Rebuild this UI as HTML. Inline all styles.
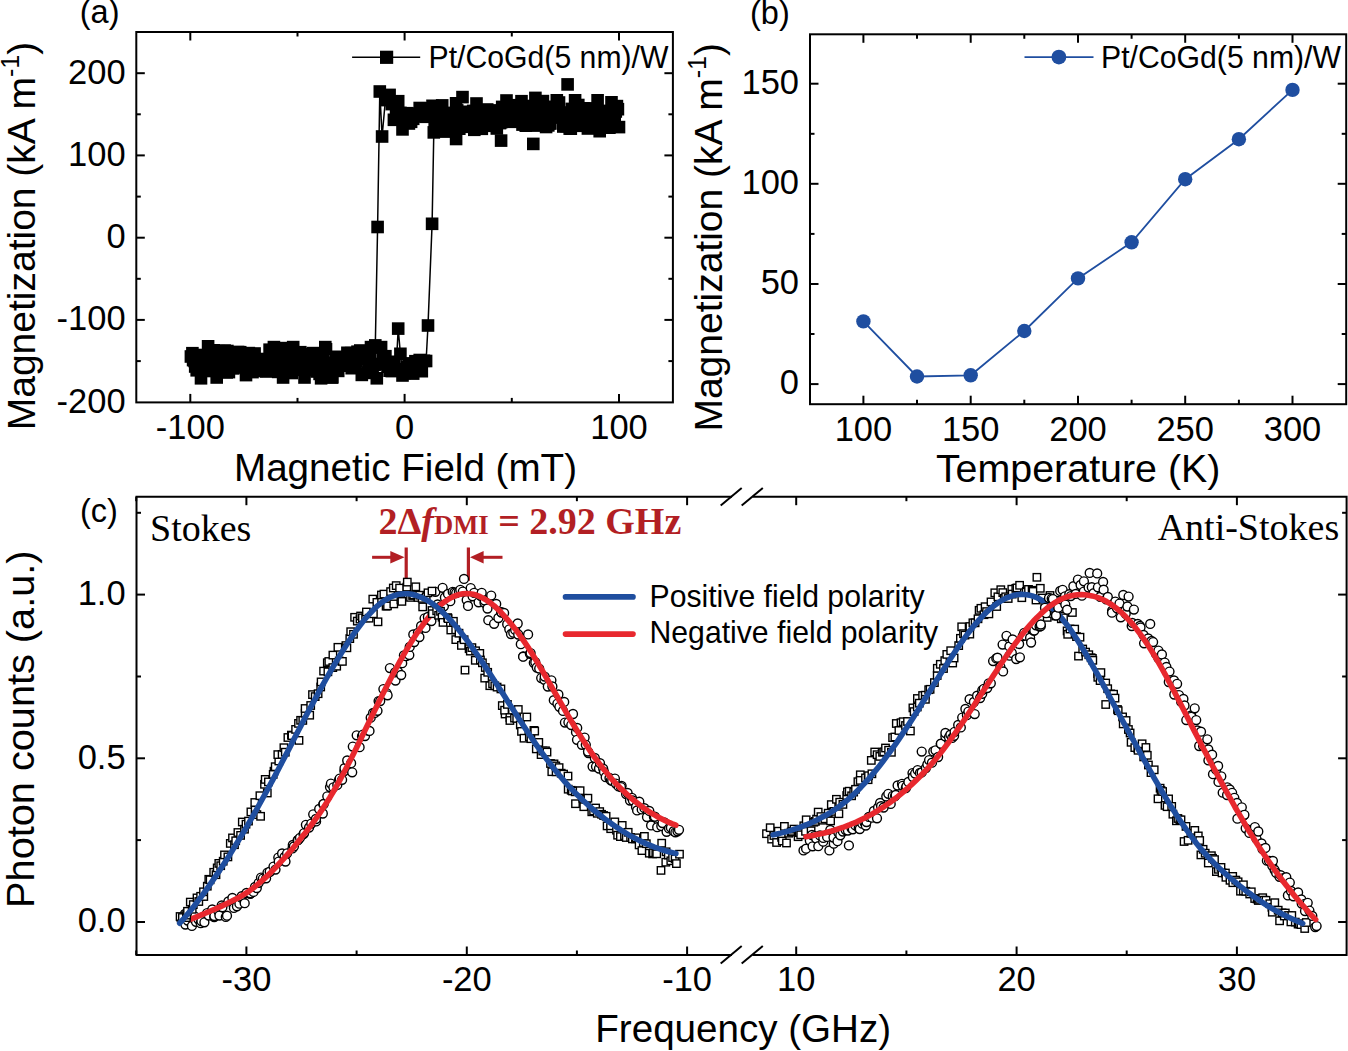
<!DOCTYPE html>
<html><head><meta charset="utf-8"><title>Figure</title>
<style>html,body{margin:0;padding:0;background:#fff;overflow:hidden}svg{display:block}</style>
</head><body><svg width="1348" height="1051" viewBox="0 0 1348 1051"><line x1="190.3" y1="402.4" x2="190.3" y2="393.9" stroke="#000" stroke-width="2.0" stroke-linecap="butt"/><line x1="190.3" y1="32.0" x2="190.3" y2="40.5" stroke="#000" stroke-width="2.0" stroke-linecap="butt"/><line x1="297.5" y1="402.4" x2="297.5" y2="397.9" stroke="#000" stroke-width="2.0" stroke-linecap="butt"/><line x1="297.5" y1="32.0" x2="297.5" y2="36.5" stroke="#000" stroke-width="2.0" stroke-linecap="butt"/><line x1="404.6" y1="402.4" x2="404.6" y2="393.9" stroke="#000" stroke-width="2.0" stroke-linecap="butt"/><line x1="404.6" y1="32.0" x2="404.6" y2="40.5" stroke="#000" stroke-width="2.0" stroke-linecap="butt"/><line x1="511.8" y1="402.4" x2="511.8" y2="397.9" stroke="#000" stroke-width="2.0" stroke-linecap="butt"/><line x1="511.8" y1="32.0" x2="511.8" y2="36.5" stroke="#000" stroke-width="2.0" stroke-linecap="butt"/><line x1="619.0" y1="402.4" x2="619.0" y2="393.9" stroke="#000" stroke-width="2.0" stroke-linecap="butt"/><line x1="619.0" y1="32.0" x2="619.0" y2="40.5" stroke="#000" stroke-width="2.0" stroke-linecap="butt"/><line x1="136.3" y1="361.1" x2="140.8" y2="361.1" stroke="#000" stroke-width="2.0" stroke-linecap="butt"/><line x1="672.9" y1="361.1" x2="668.4" y2="361.1" stroke="#000" stroke-width="2.0" stroke-linecap="butt"/><line x1="136.3" y1="319.9" x2="144.8" y2="319.9" stroke="#000" stroke-width="2.0" stroke-linecap="butt"/><line x1="672.9" y1="319.9" x2="664.4" y2="319.9" stroke="#000" stroke-width="2.0" stroke-linecap="butt"/><line x1="136.3" y1="278.8" x2="140.8" y2="278.8" stroke="#000" stroke-width="2.0" stroke-linecap="butt"/><line x1="672.9" y1="278.8" x2="668.4" y2="278.8" stroke="#000" stroke-width="2.0" stroke-linecap="butt"/><line x1="136.3" y1="237.7" x2="144.8" y2="237.7" stroke="#000" stroke-width="2.0" stroke-linecap="butt"/><line x1="672.9" y1="237.7" x2="664.4" y2="237.7" stroke="#000" stroke-width="2.0" stroke-linecap="butt"/><line x1="136.3" y1="196.6" x2="140.8" y2="196.6" stroke="#000" stroke-width="2.0" stroke-linecap="butt"/><line x1="672.9" y1="196.6" x2="668.4" y2="196.6" stroke="#000" stroke-width="2.0" stroke-linecap="butt"/><line x1="136.3" y1="155.4" x2="144.8" y2="155.4" stroke="#000" stroke-width="2.0" stroke-linecap="butt"/><line x1="672.9" y1="155.4" x2="664.4" y2="155.4" stroke="#000" stroke-width="2.0" stroke-linecap="butt"/><line x1="136.3" y1="114.3" x2="140.8" y2="114.3" stroke="#000" stroke-width="2.0" stroke-linecap="butt"/><line x1="672.9" y1="114.3" x2="668.4" y2="114.3" stroke="#000" stroke-width="2.0" stroke-linecap="butt"/><line x1="136.3" y1="73.2" x2="144.8" y2="73.2" stroke="#000" stroke-width="2.0" stroke-linecap="butt"/><line x1="672.9" y1="73.2" x2="664.4" y2="73.2" stroke="#000" stroke-width="2.0" stroke-linecap="butt"/><rect x="136.3" y="32.0" width="536.6" height="370.4" fill="none" stroke="#000" stroke-width="2.0"/><text transform="translate(125.6,83.5) scale(1,1.035)" font-family='"Liberation Sans", sans-serif' font-size="34.5" text-anchor="end" >200</text><text transform="translate(125.6,165.8) scale(1,1.035)" font-family='"Liberation Sans", sans-serif' font-size="34.5" text-anchor="end" >100</text><text transform="translate(125.6,248.0) scale(1,1.035)" font-family='"Liberation Sans", sans-serif' font-size="34.5" text-anchor="end" >0</text><text transform="translate(125.6,330.2) scale(1,1.035)" font-family='"Liberation Sans", sans-serif' font-size="34.5" text-anchor="end" >-100</text><text transform="translate(125.6,412.5) scale(1,1.035)" font-family='"Liberation Sans", sans-serif' font-size="34.5" text-anchor="end" >-200</text><text transform="translate(190.3,439.0) scale(1,1.035)" font-family='"Liberation Sans", sans-serif' font-size="34.5" text-anchor="middle" >-100</text><text transform="translate(404.6,439.0) scale(1,1.035)" font-family='"Liberation Sans", sans-serif' font-size="34.5" text-anchor="middle" >0</text><text transform="translate(619.0,439.0) scale(1,1.035)" font-family='"Liberation Sans", sans-serif' font-size="34.5" text-anchor="middle" >100</text><text x="405.5" y="481.0" font-family='"Liberation Sans", sans-serif' font-size="38.6" text-anchor="middle" >Magnetic Field (mT)</text><text transform="translate(35.3,236.0) rotate(-90)" font-family='"Liberation Sans", sans-serif' font-size="39.0" text-anchor="middle">Magnetization (kA m<tspan font-size="25" dy="-16">-1</tspan><tspan dy="16">)</tspan></text><text x="79.8" y="23.3" font-family='"Liberation Sans", sans-serif' font-size="32.5" text-anchor="start" >(a)</text><path d="M619.0,127.1 L616.9,106.1 L614.7,122.8 L612.6,118.0 L610.4,116.6 L608.3,121.8 L606.1,126.7 L604.0,110.9 L601.9,113.1 L599.7,131.2 L597.6,100.3 L595.4,108.4 L593.3,121.9 L591.1,108.9 L589.0,119.6 L586.8,116.4 L584.7,109.8 L582.6,125.8 L580.4,111.5 L578.3,105.0 L576.1,105.6 L574.0,118.3 L571.8,108.9 L569.7,128.6 L567.6,117.2 L565.4,112.5 L563.3,126.5 L561.1,116.6 L559.0,102.5 L556.8,100.3 L554.7,109.9 L552.6,109.5 L550.4,123.5 L548.3,125.4 L546.1,127.0 L544.0,111.7 L541.8,110.1 L539.7,121.1 L537.5,125.6 L535.4,114.0 L533.3,113.5 L531.1,117.0 L529.0,106.0 L526.8,116.7 L524.7,116.5 L522.5,124.6 L520.4,114.9 L518.3,105.4 L516.1,115.5 L514.0,115.4 L511.8,112.6 L509.7,113.8 L507.5,111.8 L505.4,111.8 L503.3,111.1 L501.1,122.2 L499.0,113.6 L496.8,128.5 L494.7,113.9 L492.5,125.8 L490.4,116.5 L488.2,112.3 L486.1,119.2 L484.0,115.2 L481.8,128.8 L479.7,122.7 L477.5,110.6 L475.4,125.0 L473.2,110.9 L471.1,126.8 L469.0,123.1 L466.8,124.5 L464.7,115.9 L462.5,111.8 L460.4,124.3 L458.2,117.4 L456.1,103.3 L454.0,118.5 L451.8,122.3 L449.7,112.9 L447.5,117.7 L445.4,121.5 L443.2,130.0 L441.1,109.6 L438.9,120.4 L436.8,116.0 L434.7,124.3 L432.5,105.8 L430.4,110.1 L428.2,108.3 L426.1,116.8 L423.9,112.3 L421.8,109.0 L419.7,108.0 L417.5,113.5 L415.4,116.5 L413.2,118.8 L411.1,121.8 L408.9,123.5 L406.8,113.2 L404.6,117.9 L402.5,129.4 L400.4,112.9 L398.2,101.2 L396.1,109.6 L393.9,119.8 L391.8,104.1 L389.6,94.9 L387.5,97.3 L385.4,100.1 L382.1,136.5 L379.8,91.5 L377.6,227.0 L375.3,345.4 L373.1,347.5 L371.0,347.1 L368.9,362.7 L366.7,355.5 L364.6,358.8 L362.4,355.8 L360.3,350.5 L358.1,355.5 L356.0,361.2 L353.8,367.0 L351.7,368.2 L349.6,362.1 L347.4,352.8 L345.3,359.5 L343.1,361.5 L341.0,359.9 L338.8,361.6 L336.7,357.6 L334.6,370.7 L332.4,377.3 L330.3,365.2 L328.1,370.9 L326.0,349.3 L323.8,363.1 L321.7,363.9 L319.6,373.9 L317.4,359.7 L315.3,366.8 L313.1,353.1 L311.0,355.3 L308.8,368.0 L306.7,358.7 L304.5,377.5 L302.4,367.2 L300.3,352.2 L298.1,355.7 L296.0,360.5 L293.8,362.1 L291.7,373.0 L289.5,372.5 L287.4,360.2 L285.3,348.1 L283.1,377.5 L281.0,357.0 L278.8,357.2 L276.7,354.5 L274.5,368.7 L272.4,366.0 L270.3,361.5 L268.1,369.9 L266.0,371.5 L263.8,368.8 L261.7,362.5 L259.5,359.0 L257.4,362.1 L255.2,361.3 L253.1,367.2 L251.0,367.5 L248.8,353.1 L246.7,362.3 L244.5,362.5 L242.4,354.6 L240.2,352.2 L238.1,352.0 L236.0,358.7 L233.8,362.3 L231.7,359.6 L229.5,360.5 L227.4,351.0 L225.2,359.6 L223.1,356.9 L221.0,362.1 L218.8,351.2 L216.7,377.5 L214.5,358.9 L212.4,356.0 L210.2,371.0 L208.1,346.3 L205.9,363.1 L203.8,363.2 L201.7,370.3 L199.5,355.0 L197.4,360.1 L195.2,366.5 L193.1,360.1 L190.9,356.5 L192.4,353.2 L194.6,361.0 L196.7,370.3 L198.9,367.1 L201.0,378.3 L203.2,368.4 L205.3,357.0 L207.4,359.1 L209.6,363.6 L211.7,365.4 L213.9,350.3 L216.0,360.5 L218.2,355.6 L220.3,359.6 L222.5,368.0 L224.6,350.6 L226.7,372.4 L228.9,372.1 L231.0,366.1 L233.2,368.4 L235.3,367.1 L237.5,367.4 L239.6,355.0 L241.7,362.3 L243.9,360.0 L246.0,375.1 L248.2,369.3 L250.3,354.2 L252.5,372.1 L254.6,353.5 L256.7,370.8 L258.9,360.4 L261.0,369.3 L263.2,361.2 L265.3,369.7 L267.5,364.7 L269.6,349.7 L271.8,365.7 L273.9,347.1 L276.0,366.3 L278.2,371.9 L280.3,362.1 L282.5,365.9 L284.6,349.0 L286.8,356.0 L288.9,353.5 L291.0,357.8 L293.2,347.1 L295.3,356.5 L297.5,358.6 L299.6,369.2 L301.8,369.8 L303.9,361.3 L306.0,354.9 L308.2,354.0 L310.3,370.1 L312.5,358.6 L314.6,361.2 L316.8,371.5 L318.9,358.7 L321.1,378.3 L323.2,360.7 L325.3,347.1 L327.5,370.7 L329.6,362.6 L331.8,377.5 L333.9,368.6 L336.1,356.8 L338.2,370.9 L340.3,363.0 L342.5,365.5 L344.6,365.7 L346.8,361.2 L348.9,358.9 L351.1,353.1 L353.2,356.2 L355.3,367.1 L357.5,351.7 L359.6,353.0 L361.8,374.9 L363.9,357.5 L366.1,356.3 L368.2,355.2 L370.4,358.4 L372.5,372.9 L374.6,364.8 L376.8,378.3 L378.9,364.0 L381.1,347.1 L383.2,357.4 L385.4,356.2 L387.5,366.7 L389.6,370.7 L391.8,371.1 L393.9,361.8 L396.1,369.0 L398.2,328.6 L400.4,353.8 L402.5,375.5 L404.6,373.0 L406.8,366.7 L408.9,363.5 L411.1,363.7 L413.2,373.6 L415.4,361.2 L417.5,363.7 L419.7,360.0 L421.8,371.2 L423.9,360.8 L426.1,361.0 L428.0,325.5 L432.1,223.8 L433.8,132.4 L435.7,121.1 L437.9,117.7 L440.0,120.3 L442.2,105.4 L444.3,131.6 L446.4,127.3 L448.6,129.3 L450.7,118.9 L452.9,121.3 L455.0,119.2 L457.2,110.4 L459.3,128.7 L461.5,122.6 L463.6,117.7 L465.7,125.4 L467.9,113.1 L470.0,113.4 L472.2,121.5 L474.3,129.8 L476.5,103.5 L478.6,112.3 L480.7,112.7 L482.9,115.4 L485.0,116.0 L487.2,109.5 L489.3,116.1 L491.5,120.9 L493.6,110.4 L495.7,115.5 L497.9,122.0 L500.0,123.1 L502.2,106.9 L504.3,111.0 L506.5,100.5 L508.6,120.1 L510.8,121.8 L512.9,112.8 L515.0,105.2 L517.2,111.3 L519.3,112.6 L521.5,101.2 L523.6,121.8 L525.8,125.7 L527.9,121.8 L530.0,118.4 L532.2,113.1 L534.3,108.0 L536.5,112.8 L538.6,104.1 L540.8,122.4 L542.9,101.1 L545.0,122.3 L547.2,106.8 L549.3,123.3 L551.5,113.3 L553.6,115.6 L555.8,111.9 L557.9,110.1 L560.1,117.6 L562.2,116.5 L564.3,114.1 L566.5,126.2 L568.6,121.7 L570.8,128.7 L572.9,115.9 L575.1,100.3 L577.2,110.2 L579.3,122.7 L581.5,121.5 L583.6,108.3 L585.8,119.7 L587.9,128.5 L590.1,124.0 L592.2,124.2 L594.3,124.0 L596.5,110.7 L598.6,115.4 L600.8,127.6 L602.9,120.2 L605.1,124.9 L607.2,125.4 L609.4,127.7 L611.5,102.3 L613.6,118.4 L615.8,111.5 L617.9,109.2" fill="none" stroke="#000" stroke-width="1.5"/><g fill="#000"><rect x="612.7" y="120.8" width="12.6" height="12.6"/><rect x="610.6" y="99.8" width="12.6" height="12.6"/><rect x="608.4" y="116.5" width="12.6" height="12.6"/><rect x="606.3" y="111.7" width="12.6" height="12.6"/><rect x="604.1" y="110.3" width="12.6" height="12.6"/><rect x="602.0" y="115.5" width="12.6" height="12.6"/><rect x="599.8" y="120.4" width="12.6" height="12.6"/><rect x="597.7" y="104.6" width="12.6" height="12.6"/><rect x="595.6" y="106.8" width="12.6" height="12.6"/><rect x="593.4" y="124.9" width="12.6" height="12.6"/><rect x="591.3" y="94.0" width="12.6" height="12.6"/><rect x="589.1" y="102.1" width="12.6" height="12.6"/><rect x="587.0" y="115.6" width="12.6" height="12.6"/><rect x="584.8" y="102.6" width="12.6" height="12.6"/><rect x="582.7" y="113.3" width="12.6" height="12.6"/><rect x="580.5" y="110.1" width="12.6" height="12.6"/><rect x="578.4" y="103.5" width="12.6" height="12.6"/><rect x="576.3" y="119.5" width="12.6" height="12.6"/><rect x="574.1" y="105.2" width="12.6" height="12.6"/><rect x="572.0" y="98.7" width="12.6" height="12.6"/><rect x="569.8" y="99.3" width="12.6" height="12.6"/><rect x="567.7" y="112.0" width="12.6" height="12.6"/><rect x="565.5" y="102.6" width="12.6" height="12.6"/><rect x="563.4" y="122.3" width="12.6" height="12.6"/><rect x="561.3" y="110.9" width="12.6" height="12.6"/><rect x="559.1" y="106.2" width="12.6" height="12.6"/><rect x="557.0" y="120.2" width="12.6" height="12.6"/><rect x="554.8" y="110.3" width="12.6" height="12.6"/><rect x="552.7" y="96.2" width="12.6" height="12.6"/><rect x="550.5" y="94.0" width="12.6" height="12.6"/><rect x="548.4" y="103.6" width="12.6" height="12.6"/><rect x="546.3" y="103.2" width="12.6" height="12.6"/><rect x="544.1" y="117.2" width="12.6" height="12.6"/><rect x="542.0" y="119.1" width="12.6" height="12.6"/><rect x="539.8" y="120.7" width="12.6" height="12.6"/><rect x="537.7" y="105.4" width="12.6" height="12.6"/><rect x="535.5" y="103.8" width="12.6" height="12.6"/><rect x="533.4" y="114.8" width="12.6" height="12.6"/><rect x="531.2" y="119.3" width="12.6" height="12.6"/><rect x="529.1" y="107.7" width="12.6" height="12.6"/><rect x="527.0" y="107.2" width="12.6" height="12.6"/><rect x="524.8" y="110.7" width="12.6" height="12.6"/><rect x="522.7" y="99.7" width="12.6" height="12.6"/><rect x="520.5" y="110.4" width="12.6" height="12.6"/><rect x="518.4" y="110.2" width="12.6" height="12.6"/><rect x="516.2" y="118.3" width="12.6" height="12.6"/><rect x="514.1" y="108.6" width="12.6" height="12.6"/><rect x="512.0" y="99.1" width="12.6" height="12.6"/><rect x="509.8" y="109.2" width="12.6" height="12.6"/><rect x="507.7" y="109.1" width="12.6" height="12.6"/><rect x="505.5" y="106.3" width="12.6" height="12.6"/><rect x="503.4" y="107.5" width="12.6" height="12.6"/><rect x="501.2" y="105.5" width="12.6" height="12.6"/><rect x="499.1" y="105.5" width="12.6" height="12.6"/><rect x="497.0" y="104.8" width="12.6" height="12.6"/><rect x="494.8" y="115.9" width="12.6" height="12.6"/><rect x="492.7" y="107.3" width="12.6" height="12.6"/><rect x="490.5" y="122.2" width="12.6" height="12.6"/><rect x="488.4" y="107.6" width="12.6" height="12.6"/><rect x="486.2" y="119.5" width="12.6" height="12.6"/><rect x="484.1" y="110.2" width="12.6" height="12.6"/><rect x="481.9" y="106.0" width="12.6" height="12.6"/><rect x="479.8" y="112.9" width="12.6" height="12.6"/><rect x="477.7" y="108.9" width="12.6" height="12.6"/><rect x="475.5" y="122.5" width="12.6" height="12.6"/><rect x="473.4" y="116.4" width="12.6" height="12.6"/><rect x="471.2" y="104.3" width="12.6" height="12.6"/><rect x="469.1" y="118.7" width="12.6" height="12.6"/><rect x="466.9" y="104.6" width="12.6" height="12.6"/><rect x="464.8" y="120.5" width="12.6" height="12.6"/><rect x="462.7" y="116.8" width="12.6" height="12.6"/><rect x="460.5" y="118.2" width="12.6" height="12.6"/><rect x="458.4" y="109.6" width="12.6" height="12.6"/><rect x="456.2" y="105.5" width="12.6" height="12.6"/><rect x="454.1" y="118.0" width="12.6" height="12.6"/><rect x="451.9" y="111.1" width="12.6" height="12.6"/><rect x="449.8" y="97.0" width="12.6" height="12.6"/><rect x="447.7" y="112.2" width="12.6" height="12.6"/><rect x="445.5" y="116.0" width="12.6" height="12.6"/><rect x="443.4" y="106.6" width="12.6" height="12.6"/><rect x="441.2" y="111.4" width="12.6" height="12.6"/><rect x="439.1" y="115.2" width="12.6" height="12.6"/><rect x="436.9" y="123.7" width="12.6" height="12.6"/><rect x="434.8" y="103.3" width="12.6" height="12.6"/><rect x="432.6" y="114.1" width="12.6" height="12.6"/><rect x="430.5" y="109.7" width="12.6" height="12.6"/><rect x="428.4" y="118.0" width="12.6" height="12.6"/><rect x="426.2" y="99.5" width="12.6" height="12.6"/><rect x="424.1" y="103.8" width="12.6" height="12.6"/><rect x="421.9" y="102.0" width="12.6" height="12.6"/><rect x="419.8" y="110.5" width="12.6" height="12.6"/><rect x="417.6" y="106.0" width="12.6" height="12.6"/><rect x="415.5" y="102.7" width="12.6" height="12.6"/><rect x="413.4" y="101.7" width="12.6" height="12.6"/><rect x="411.2" y="107.2" width="12.6" height="12.6"/><rect x="409.1" y="110.2" width="12.6" height="12.6"/><rect x="406.9" y="112.5" width="12.6" height="12.6"/><rect x="404.8" y="115.5" width="12.6" height="12.6"/><rect x="402.6" y="117.2" width="12.6" height="12.6"/><rect x="400.5" y="106.9" width="12.6" height="12.6"/><rect x="398.3" y="111.6" width="12.6" height="12.6"/><rect x="396.2" y="123.1" width="12.6" height="12.6"/><rect x="394.1" y="106.6" width="12.6" height="12.6"/><rect x="391.9" y="94.9" width="12.6" height="12.6"/><rect x="389.8" y="103.3" width="12.6" height="12.6"/><rect x="387.6" y="113.5" width="12.6" height="12.6"/><rect x="385.5" y="97.8" width="12.6" height="12.6"/><rect x="383.3" y="88.6" width="12.6" height="12.6"/><rect x="381.2" y="91.0" width="12.6" height="12.6"/><rect x="379.1" y="93.8" width="12.6" height="12.6"/><rect x="375.8" y="130.2" width="12.6" height="12.6"/><rect x="373.5" y="85.2" width="12.6" height="12.6"/><rect x="371.3" y="220.7" width="12.6" height="12.6"/><rect x="369.0" y="339.1" width="12.6" height="12.6"/><rect x="366.8" y="341.2" width="12.6" height="12.6"/><rect x="364.7" y="340.8" width="12.6" height="12.6"/><rect x="362.6" y="356.4" width="12.6" height="12.6"/><rect x="360.4" y="349.2" width="12.6" height="12.6"/><rect x="358.3" y="352.5" width="12.6" height="12.6"/><rect x="356.1" y="349.5" width="12.6" height="12.6"/><rect x="354.0" y="344.2" width="12.6" height="12.6"/><rect x="351.8" y="349.2" width="12.6" height="12.6"/><rect x="349.7" y="354.9" width="12.6" height="12.6"/><rect x="347.5" y="360.7" width="12.6" height="12.6"/><rect x="345.4" y="361.9" width="12.6" height="12.6"/><rect x="343.3" y="355.8" width="12.6" height="12.6"/><rect x="341.1" y="346.5" width="12.6" height="12.6"/><rect x="339.0" y="353.2" width="12.6" height="12.6"/><rect x="336.8" y="355.2" width="12.6" height="12.6"/><rect x="334.7" y="353.6" width="12.6" height="12.6"/><rect x="332.5" y="355.3" width="12.6" height="12.6"/><rect x="330.4" y="351.3" width="12.6" height="12.6"/><rect x="328.3" y="364.4" width="12.6" height="12.6"/><rect x="326.1" y="371.0" width="12.6" height="12.6"/><rect x="324.0" y="358.9" width="12.6" height="12.6"/><rect x="321.8" y="364.6" width="12.6" height="12.6"/><rect x="319.7" y="343.0" width="12.6" height="12.6"/><rect x="317.5" y="356.8" width="12.6" height="12.6"/><rect x="315.4" y="357.6" width="12.6" height="12.6"/><rect x="313.3" y="367.6" width="12.6" height="12.6"/><rect x="311.1" y="353.4" width="12.6" height="12.6"/><rect x="309.0" y="360.5" width="12.6" height="12.6"/><rect x="306.8" y="346.8" width="12.6" height="12.6"/><rect x="304.7" y="349.0" width="12.6" height="12.6"/><rect x="302.5" y="361.7" width="12.6" height="12.6"/><rect x="300.4" y="352.4" width="12.6" height="12.6"/><rect x="298.2" y="371.2" width="12.6" height="12.6"/><rect x="296.1" y="360.9" width="12.6" height="12.6"/><rect x="294.0" y="345.9" width="12.6" height="12.6"/><rect x="291.8" y="349.4" width="12.6" height="12.6"/><rect x="289.7" y="354.2" width="12.6" height="12.6"/><rect x="287.5" y="355.8" width="12.6" height="12.6"/><rect x="285.4" y="366.7" width="12.6" height="12.6"/><rect x="283.2" y="366.2" width="12.6" height="12.6"/><rect x="281.1" y="353.9" width="12.6" height="12.6"/><rect x="279.0" y="341.8" width="12.6" height="12.6"/><rect x="276.8" y="371.2" width="12.6" height="12.6"/><rect x="274.7" y="350.7" width="12.6" height="12.6"/><rect x="272.5" y="350.9" width="12.6" height="12.6"/><rect x="270.4" y="348.2" width="12.6" height="12.6"/><rect x="268.2" y="362.4" width="12.6" height="12.6"/><rect x="266.1" y="359.7" width="12.6" height="12.6"/><rect x="264.0" y="355.2" width="12.6" height="12.6"/><rect x="261.8" y="363.6" width="12.6" height="12.6"/><rect x="259.7" y="365.2" width="12.6" height="12.6"/><rect x="257.5" y="362.5" width="12.6" height="12.6"/><rect x="255.4" y="356.2" width="12.6" height="12.6"/><rect x="253.2" y="352.7" width="12.6" height="12.6"/><rect x="251.1" y="355.8" width="12.6" height="12.6"/><rect x="248.9" y="355.0" width="12.6" height="12.6"/><rect x="246.8" y="360.9" width="12.6" height="12.6"/><rect x="244.7" y="361.2" width="12.6" height="12.6"/><rect x="242.5" y="346.8" width="12.6" height="12.6"/><rect x="240.4" y="356.0" width="12.6" height="12.6"/><rect x="238.2" y="356.2" width="12.6" height="12.6"/><rect x="236.1" y="348.3" width="12.6" height="12.6"/><rect x="233.9" y="345.9" width="12.6" height="12.6"/><rect x="231.8" y="345.7" width="12.6" height="12.6"/><rect x="229.7" y="352.4" width="12.6" height="12.6"/><rect x="227.5" y="356.0" width="12.6" height="12.6"/><rect x="225.4" y="353.3" width="12.6" height="12.6"/><rect x="223.2" y="354.2" width="12.6" height="12.6"/><rect x="221.1" y="344.7" width="12.6" height="12.6"/><rect x="218.9" y="353.3" width="12.6" height="12.6"/><rect x="216.8" y="350.6" width="12.6" height="12.6"/><rect x="214.7" y="355.8" width="12.6" height="12.6"/><rect x="212.5" y="344.9" width="12.6" height="12.6"/><rect x="210.4" y="371.2" width="12.6" height="12.6"/><rect x="208.2" y="352.6" width="12.6" height="12.6"/><rect x="206.1" y="349.7" width="12.6" height="12.6"/><rect x="203.9" y="364.7" width="12.6" height="12.6"/><rect x="201.8" y="340.0" width="12.6" height="12.6"/><rect x="199.6" y="356.8" width="12.6" height="12.6"/><rect x="197.5" y="356.9" width="12.6" height="12.6"/><rect x="195.4" y="364.0" width="12.6" height="12.6"/><rect x="193.2" y="348.7" width="12.6" height="12.6"/><rect x="191.1" y="353.8" width="12.6" height="12.6"/><rect x="188.9" y="360.2" width="12.6" height="12.6"/><rect x="186.8" y="353.8" width="12.6" height="12.6"/><rect x="184.6" y="350.2" width="12.6" height="12.6"/><rect x="186.1" y="346.9" width="12.6" height="12.6"/><rect x="188.3" y="354.7" width="12.6" height="12.6"/><rect x="190.4" y="364.0" width="12.6" height="12.6"/><rect x="192.6" y="360.8" width="12.6" height="12.6"/><rect x="194.7" y="372.0" width="12.6" height="12.6"/><rect x="196.9" y="362.1" width="12.6" height="12.6"/><rect x="199.0" y="350.7" width="12.6" height="12.6"/><rect x="201.1" y="352.8" width="12.6" height="12.6"/><rect x="203.3" y="357.3" width="12.6" height="12.6"/><rect x="205.4" y="359.1" width="12.6" height="12.6"/><rect x="207.6" y="344.0" width="12.6" height="12.6"/><rect x="209.7" y="354.2" width="12.6" height="12.6"/><rect x="211.9" y="349.3" width="12.6" height="12.6"/><rect x="214.0" y="353.3" width="12.6" height="12.6"/><rect x="216.2" y="361.7" width="12.6" height="12.6"/><rect x="218.3" y="344.3" width="12.6" height="12.6"/><rect x="220.4" y="366.1" width="12.6" height="12.6"/><rect x="222.6" y="365.8" width="12.6" height="12.6"/><rect x="224.7" y="359.8" width="12.6" height="12.6"/><rect x="226.9" y="362.1" width="12.6" height="12.6"/><rect x="229.0" y="360.8" width="12.6" height="12.6"/><rect x="231.2" y="361.1" width="12.6" height="12.6"/><rect x="233.3" y="348.7" width="12.6" height="12.6"/><rect x="235.4" y="356.0" width="12.6" height="12.6"/><rect x="237.6" y="353.7" width="12.6" height="12.6"/><rect x="239.7" y="368.8" width="12.6" height="12.6"/><rect x="241.9" y="363.0" width="12.6" height="12.6"/><rect x="244.0" y="347.9" width="12.6" height="12.6"/><rect x="246.2" y="365.8" width="12.6" height="12.6"/><rect x="248.3" y="347.2" width="12.6" height="12.6"/><rect x="250.4" y="364.5" width="12.6" height="12.6"/><rect x="252.6" y="354.1" width="12.6" height="12.6"/><rect x="254.7" y="363.0" width="12.6" height="12.6"/><rect x="256.9" y="354.9" width="12.6" height="12.6"/><rect x="259.0" y="363.4" width="12.6" height="12.6"/><rect x="261.2" y="358.4" width="12.6" height="12.6"/><rect x="263.3" y="343.4" width="12.6" height="12.6"/><rect x="265.5" y="359.4" width="12.6" height="12.6"/><rect x="267.6" y="340.8" width="12.6" height="12.6"/><rect x="269.7" y="360.0" width="12.6" height="12.6"/><rect x="271.9" y="365.6" width="12.6" height="12.6"/><rect x="274.0" y="355.8" width="12.6" height="12.6"/><rect x="276.2" y="359.6" width="12.6" height="12.6"/><rect x="278.3" y="342.7" width="12.6" height="12.6"/><rect x="280.5" y="349.7" width="12.6" height="12.6"/><rect x="282.6" y="347.2" width="12.6" height="12.6"/><rect x="284.7" y="351.5" width="12.6" height="12.6"/><rect x="286.9" y="340.8" width="12.6" height="12.6"/><rect x="289.0" y="350.2" width="12.6" height="12.6"/><rect x="291.2" y="352.3" width="12.6" height="12.6"/><rect x="293.3" y="362.9" width="12.6" height="12.6"/><rect x="295.5" y="363.5" width="12.6" height="12.6"/><rect x="297.6" y="355.0" width="12.6" height="12.6"/><rect x="299.7" y="348.6" width="12.6" height="12.6"/><rect x="301.9" y="347.7" width="12.6" height="12.6"/><rect x="304.0" y="363.8" width="12.6" height="12.6"/><rect x="306.2" y="352.3" width="12.6" height="12.6"/><rect x="308.3" y="354.9" width="12.6" height="12.6"/><rect x="310.5" y="365.2" width="12.6" height="12.6"/><rect x="312.6" y="352.4" width="12.6" height="12.6"/><rect x="314.8" y="372.0" width="12.6" height="12.6"/><rect x="316.9" y="354.4" width="12.6" height="12.6"/><rect x="319.0" y="340.8" width="12.6" height="12.6"/><rect x="321.2" y="364.4" width="12.6" height="12.6"/><rect x="323.3" y="356.3" width="12.6" height="12.6"/><rect x="325.5" y="371.2" width="12.6" height="12.6"/><rect x="327.6" y="362.3" width="12.6" height="12.6"/><rect x="329.8" y="350.5" width="12.6" height="12.6"/><rect x="331.9" y="364.6" width="12.6" height="12.6"/><rect x="334.0" y="356.7" width="12.6" height="12.6"/><rect x="336.2" y="359.2" width="12.6" height="12.6"/><rect x="338.3" y="359.4" width="12.6" height="12.6"/><rect x="340.5" y="354.9" width="12.6" height="12.6"/><rect x="342.6" y="352.6" width="12.6" height="12.6"/><rect x="344.8" y="346.8" width="12.6" height="12.6"/><rect x="346.9" y="349.9" width="12.6" height="12.6"/><rect x="349.0" y="360.8" width="12.6" height="12.6"/><rect x="351.2" y="345.4" width="12.6" height="12.6"/><rect x="353.3" y="346.7" width="12.6" height="12.6"/><rect x="355.5" y="368.6" width="12.6" height="12.6"/><rect x="357.6" y="351.2" width="12.6" height="12.6"/><rect x="359.8" y="350.0" width="12.6" height="12.6"/><rect x="361.9" y="348.9" width="12.6" height="12.6"/><rect x="364.1" y="352.1" width="12.6" height="12.6"/><rect x="366.2" y="366.6" width="12.6" height="12.6"/><rect x="368.3" y="358.5" width="12.6" height="12.6"/><rect x="370.5" y="372.0" width="12.6" height="12.6"/><rect x="372.6" y="357.7" width="12.6" height="12.6"/><rect x="374.8" y="340.8" width="12.6" height="12.6"/><rect x="376.9" y="351.1" width="12.6" height="12.6"/><rect x="379.1" y="349.9" width="12.6" height="12.6"/><rect x="381.2" y="360.4" width="12.6" height="12.6"/><rect x="383.3" y="364.4" width="12.6" height="12.6"/><rect x="385.5" y="364.8" width="12.6" height="12.6"/><rect x="387.6" y="355.5" width="12.6" height="12.6"/><rect x="389.8" y="362.7" width="12.6" height="12.6"/><rect x="391.9" y="322.3" width="12.6" height="12.6"/><rect x="394.1" y="347.5" width="12.6" height="12.6"/><rect x="396.2" y="369.2" width="12.6" height="12.6"/><rect x="398.3" y="366.7" width="12.6" height="12.6"/><rect x="400.5" y="360.4" width="12.6" height="12.6"/><rect x="402.6" y="357.2" width="12.6" height="12.6"/><rect x="404.8" y="357.4" width="12.6" height="12.6"/><rect x="406.9" y="367.3" width="12.6" height="12.6"/><rect x="409.1" y="354.9" width="12.6" height="12.6"/><rect x="411.2" y="357.4" width="12.6" height="12.6"/><rect x="413.4" y="353.7" width="12.6" height="12.6"/><rect x="415.5" y="364.9" width="12.6" height="12.6"/><rect x="417.6" y="354.5" width="12.6" height="12.6"/><rect x="419.8" y="354.7" width="12.6" height="12.6"/><rect x="421.7" y="319.2" width="12.6" height="12.6"/><rect x="425.8" y="217.5" width="12.6" height="12.6"/><rect x="427.5" y="126.1" width="12.6" height="12.6"/><rect x="429.4" y="114.8" width="12.6" height="12.6"/><rect x="431.6" y="111.4" width="12.6" height="12.6"/><rect x="433.7" y="114.0" width="12.6" height="12.6"/><rect x="435.9" y="99.1" width="12.6" height="12.6"/><rect x="438.0" y="125.3" width="12.6" height="12.6"/><rect x="440.1" y="121.0" width="12.6" height="12.6"/><rect x="442.3" y="123.0" width="12.6" height="12.6"/><rect x="444.4" y="112.6" width="12.6" height="12.6"/><rect x="446.6" y="115.0" width="12.6" height="12.6"/><rect x="448.7" y="112.9" width="12.6" height="12.6"/><rect x="450.9" y="104.1" width="12.6" height="12.6"/><rect x="453.0" y="122.4" width="12.6" height="12.6"/><rect x="455.2" y="116.3" width="12.6" height="12.6"/><rect x="457.3" y="111.4" width="12.6" height="12.6"/><rect x="459.4" y="119.1" width="12.6" height="12.6"/><rect x="461.6" y="106.8" width="12.6" height="12.6"/><rect x="463.7" y="107.1" width="12.6" height="12.6"/><rect x="465.9" y="115.2" width="12.6" height="12.6"/><rect x="468.0" y="123.5" width="12.6" height="12.6"/><rect x="470.2" y="97.2" width="12.6" height="12.6"/><rect x="472.3" y="106.0" width="12.6" height="12.6"/><rect x="474.4" y="106.4" width="12.6" height="12.6"/><rect x="476.6" y="109.1" width="12.6" height="12.6"/><rect x="478.7" y="109.7" width="12.6" height="12.6"/><rect x="480.9" y="103.2" width="12.6" height="12.6"/><rect x="483.0" y="109.8" width="12.6" height="12.6"/><rect x="485.2" y="114.6" width="12.6" height="12.6"/><rect x="487.3" y="104.1" width="12.6" height="12.6"/><rect x="489.4" y="109.2" width="12.6" height="12.6"/><rect x="491.6" y="115.7" width="12.6" height="12.6"/><rect x="493.7" y="116.8" width="12.6" height="12.6"/><rect x="495.9" y="100.6" width="12.6" height="12.6"/><rect x="498.0" y="104.7" width="12.6" height="12.6"/><rect x="500.2" y="94.2" width="12.6" height="12.6"/><rect x="502.3" y="113.8" width="12.6" height="12.6"/><rect x="504.5" y="115.5" width="12.6" height="12.6"/><rect x="506.6" y="106.5" width="12.6" height="12.6"/><rect x="508.7" y="98.9" width="12.6" height="12.6"/><rect x="510.9" y="105.0" width="12.6" height="12.6"/><rect x="513.0" y="106.3" width="12.6" height="12.6"/><rect x="515.2" y="94.9" width="12.6" height="12.6"/><rect x="517.3" y="115.5" width="12.6" height="12.6"/><rect x="519.5" y="119.4" width="12.6" height="12.6"/><rect x="521.6" y="115.5" width="12.6" height="12.6"/><rect x="523.7" y="112.1" width="12.6" height="12.6"/><rect x="525.9" y="106.8" width="12.6" height="12.6"/><rect x="528.0" y="101.7" width="12.6" height="12.6"/><rect x="530.2" y="106.5" width="12.6" height="12.6"/><rect x="532.3" y="97.8" width="12.6" height="12.6"/><rect x="534.5" y="116.1" width="12.6" height="12.6"/><rect x="536.6" y="94.8" width="12.6" height="12.6"/><rect x="538.7" y="116.0" width="12.6" height="12.6"/><rect x="540.9" y="100.5" width="12.6" height="12.6"/><rect x="543.0" y="117.0" width="12.6" height="12.6"/><rect x="545.2" y="107.0" width="12.6" height="12.6"/><rect x="547.3" y="109.3" width="12.6" height="12.6"/><rect x="549.5" y="105.6" width="12.6" height="12.6"/><rect x="551.6" y="103.8" width="12.6" height="12.6"/><rect x="553.8" y="111.3" width="12.6" height="12.6"/><rect x="555.9" y="110.2" width="12.6" height="12.6"/><rect x="558.0" y="107.8" width="12.6" height="12.6"/><rect x="560.2" y="119.9" width="12.6" height="12.6"/><rect x="562.3" y="115.4" width="12.6" height="12.6"/><rect x="564.5" y="122.4" width="12.6" height="12.6"/><rect x="566.6" y="109.6" width="12.6" height="12.6"/><rect x="568.8" y="94.0" width="12.6" height="12.6"/><rect x="570.9" y="103.9" width="12.6" height="12.6"/><rect x="573.0" y="116.4" width="12.6" height="12.6"/><rect x="575.2" y="115.2" width="12.6" height="12.6"/><rect x="577.3" y="102.0" width="12.6" height="12.6"/><rect x="579.5" y="113.4" width="12.6" height="12.6"/><rect x="581.6" y="122.2" width="12.6" height="12.6"/><rect x="583.8" y="117.7" width="12.6" height="12.6"/><rect x="585.9" y="117.9" width="12.6" height="12.6"/><rect x="588.0" y="117.7" width="12.6" height="12.6"/><rect x="590.2" y="104.4" width="12.6" height="12.6"/><rect x="592.3" y="109.1" width="12.6" height="12.6"/><rect x="594.5" y="121.3" width="12.6" height="12.6"/><rect x="596.6" y="113.9" width="12.6" height="12.6"/><rect x="598.8" y="118.6" width="12.6" height="12.6"/><rect x="600.9" y="119.1" width="12.6" height="12.6"/><rect x="603.1" y="121.4" width="12.6" height="12.6"/><rect x="605.2" y="96.0" width="12.6" height="12.6"/><rect x="607.3" y="112.1" width="12.6" height="12.6"/><rect x="609.5" y="105.2" width="12.6" height="12.6"/><rect x="611.6" y="102.9" width="12.6" height="12.6"/><rect x="561.3" y="78.1" width="12.6" height="12.6"/><rect x="456.2" y="90.8" width="12.6" height="12.6"/><rect x="529.1" y="91.6" width="12.6" height="12.6"/><rect x="527.0" y="137.6" width="12.6" height="12.6"/><rect x="494.8" y="134.3" width="12.6" height="12.6"/><rect x="449.8" y="132.7" width="12.6" height="12.6"/></g><line x1="352.1" y1="57.2" x2="420.2" y2="57.2" stroke="#000" stroke-width="1.5" stroke-linecap="butt"/><rect x="380.0" y="50.7" width="13.2" height="13.2" fill="#000"/><text transform="translate(428.6,67.7) scale(1,1.05)" font-family='"Liberation Sans", sans-serif' font-size="30.2" text-anchor="start" >Pt/CoGd(5 nm)/W</text><line x1="863.4" y1="404.2" x2="863.4" y2="395.7" stroke="#000" stroke-width="2.0" stroke-linecap="butt"/><line x1="863.4" y1="34.3" x2="863.4" y2="42.8" stroke="#000" stroke-width="2.0" stroke-linecap="butt"/><line x1="917.0" y1="404.2" x2="917.0" y2="399.7" stroke="#000" stroke-width="2.0" stroke-linecap="butt"/><line x1="917.0" y1="34.3" x2="917.0" y2="38.8" stroke="#000" stroke-width="2.0" stroke-linecap="butt"/><line x1="970.7" y1="404.2" x2="970.7" y2="395.7" stroke="#000" stroke-width="2.0" stroke-linecap="butt"/><line x1="970.7" y1="34.3" x2="970.7" y2="42.8" stroke="#000" stroke-width="2.0" stroke-linecap="butt"/><line x1="1024.3" y1="404.2" x2="1024.3" y2="399.7" stroke="#000" stroke-width="2.0" stroke-linecap="butt"/><line x1="1024.3" y1="34.3" x2="1024.3" y2="38.8" stroke="#000" stroke-width="2.0" stroke-linecap="butt"/><line x1="1078.0" y1="404.2" x2="1078.0" y2="395.7" stroke="#000" stroke-width="2.0" stroke-linecap="butt"/><line x1="1078.0" y1="34.3" x2="1078.0" y2="42.8" stroke="#000" stroke-width="2.0" stroke-linecap="butt"/><line x1="1131.6" y1="404.2" x2="1131.6" y2="399.7" stroke="#000" stroke-width="2.0" stroke-linecap="butt"/><line x1="1131.6" y1="34.3" x2="1131.6" y2="38.8" stroke="#000" stroke-width="2.0" stroke-linecap="butt"/><line x1="1185.2" y1="404.2" x2="1185.2" y2="395.7" stroke="#000" stroke-width="2.0" stroke-linecap="butt"/><line x1="1185.2" y1="34.3" x2="1185.2" y2="42.8" stroke="#000" stroke-width="2.0" stroke-linecap="butt"/><line x1="1238.9" y1="404.2" x2="1238.9" y2="399.7" stroke="#000" stroke-width="2.0" stroke-linecap="butt"/><line x1="1238.9" y1="34.3" x2="1238.9" y2="38.8" stroke="#000" stroke-width="2.0" stroke-linecap="butt"/><line x1="1292.5" y1="404.2" x2="1292.5" y2="395.7" stroke="#000" stroke-width="2.0" stroke-linecap="butt"/><line x1="1292.5" y1="34.3" x2="1292.5" y2="42.8" stroke="#000" stroke-width="2.0" stroke-linecap="butt"/><line x1="810.0" y1="384.1" x2="818.5" y2="384.1" stroke="#000" stroke-width="2.0" stroke-linecap="butt"/><line x1="1346.2" y1="384.1" x2="1337.7" y2="384.1" stroke="#000" stroke-width="2.0" stroke-linecap="butt"/><line x1="810.0" y1="334.0" x2="814.5" y2="334.0" stroke="#000" stroke-width="2.0" stroke-linecap="butt"/><line x1="1346.2" y1="334.0" x2="1341.7" y2="334.0" stroke="#000" stroke-width="2.0" stroke-linecap="butt"/><line x1="810.0" y1="284.0" x2="818.5" y2="284.0" stroke="#000" stroke-width="2.0" stroke-linecap="butt"/><line x1="1346.2" y1="284.0" x2="1337.7" y2="284.0" stroke="#000" stroke-width="2.0" stroke-linecap="butt"/><line x1="810.0" y1="233.9" x2="814.5" y2="233.9" stroke="#000" stroke-width="2.0" stroke-linecap="butt"/><line x1="1346.2" y1="233.9" x2="1341.7" y2="233.9" stroke="#000" stroke-width="2.0" stroke-linecap="butt"/><line x1="810.0" y1="183.8" x2="818.5" y2="183.8" stroke="#000" stroke-width="2.0" stroke-linecap="butt"/><line x1="1346.2" y1="183.8" x2="1337.7" y2="183.8" stroke="#000" stroke-width="2.0" stroke-linecap="butt"/><line x1="810.0" y1="133.8" x2="814.5" y2="133.8" stroke="#000" stroke-width="2.0" stroke-linecap="butt"/><line x1="1346.2" y1="133.8" x2="1341.7" y2="133.8" stroke="#000" stroke-width="2.0" stroke-linecap="butt"/><line x1="810.0" y1="83.7" x2="818.5" y2="83.7" stroke="#000" stroke-width="2.0" stroke-linecap="butt"/><line x1="1346.2" y1="83.7" x2="1337.7" y2="83.7" stroke="#000" stroke-width="2.0" stroke-linecap="butt"/><rect x="810.0" y="34.3" width="536.2" height="369.9" fill="none" stroke="#000" stroke-width="2.0"/><text transform="translate(799.0,94.0) scale(1,1.035)" font-family='"Liberation Sans", sans-serif' font-size="34.5" text-anchor="end" >150</text><text transform="translate(799.0,194.1) scale(1,1.035)" font-family='"Liberation Sans", sans-serif' font-size="34.5" text-anchor="end" >100</text><text transform="translate(799.0,294.3) scale(1,1.035)" font-family='"Liberation Sans", sans-serif' font-size="34.5" text-anchor="end" >50</text><text transform="translate(799.0,394.4) scale(1,1.035)" font-family='"Liberation Sans", sans-serif' font-size="34.5" text-anchor="end" >0</text><text transform="translate(863.4,441.0) scale(1,1.035)" font-family='"Liberation Sans", sans-serif' font-size="34.5" text-anchor="middle" >100</text><text transform="translate(970.7,441.0) scale(1,1.035)" font-family='"Liberation Sans", sans-serif' font-size="34.5" text-anchor="middle" >150</text><text transform="translate(1078.0,441.0) scale(1,1.035)" font-family='"Liberation Sans", sans-serif' font-size="34.5" text-anchor="middle" >200</text><text transform="translate(1185.2,441.0) scale(1,1.035)" font-family='"Liberation Sans", sans-serif' font-size="34.5" text-anchor="middle" >250</text><text transform="translate(1292.5,441.0) scale(1,1.035)" font-family='"Liberation Sans", sans-serif' font-size="34.5" text-anchor="middle" >300</text><text x="1078.2" y="481.5" font-family='"Liberation Sans", sans-serif' font-size="39.4" text-anchor="middle" >Temperature (K)</text><text transform="translate(722.3,237.3) rotate(-90)" font-family='"Liberation Sans", sans-serif' font-size="39.0" text-anchor="middle">Magnetization (kA m<tspan font-size="25" dy="-16">-1</tspan><tspan dy="16">)</tspan></text><text x="750.0" y="23.6" font-family='"Liberation Sans", sans-serif' font-size="32.5" text-anchor="start" >(b)</text><path d="M863.4,321.4 L917.0,376.5 L970.7,375.3 L1024.3,331.0 L1078.0,278.4 L1131.6,242.3 L1185.2,179.2 L1238.9,139.2 L1292.5,89.9" fill="none" stroke="#1f4ea0" stroke-width="1.8"/><circle cx="863.4" cy="321.4" r="7.2" fill="#1f4ea0"/><circle cx="917.0" cy="376.5" r="7.2" fill="#1f4ea0"/><circle cx="970.7" cy="375.3" r="7.2" fill="#1f4ea0"/><circle cx="1024.3" cy="331.0" r="7.2" fill="#1f4ea0"/><circle cx="1078.0" cy="278.4" r="7.2" fill="#1f4ea0"/><circle cx="1131.6" cy="242.3" r="7.2" fill="#1f4ea0"/><circle cx="1185.2" cy="179.2" r="7.2" fill="#1f4ea0"/><circle cx="1238.9" cy="139.2" r="7.2" fill="#1f4ea0"/><circle cx="1292.5" cy="89.9" r="7.2" fill="#1f4ea0"/><line x1="1024.5" y1="57.1" x2="1093.5" y2="57.1" stroke="#1f4ea0" stroke-width="1.8" stroke-linecap="butt"/><circle cx="1058.9" cy="57.1" r="7.4" fill="#1f4ea0"/><text transform="translate(1101.1,67.6) scale(1,1.05)" font-family='"Liberation Sans", sans-serif' font-size="30.2" text-anchor="start" >Pt/CoGd(5 nm)/W</text><line x1="136.2" y1="955.0" x2="136.2" y2="950.5" stroke="#000" stroke-width="2.0" stroke-linecap="butt"/><line x1="136.2" y1="496.7" x2="136.2" y2="501.2" stroke="#000" stroke-width="2.0" stroke-linecap="butt"/><line x1="246.4" y1="955.0" x2="246.4" y2="946.5" stroke="#000" stroke-width="2.0" stroke-linecap="butt"/><line x1="246.4" y1="496.7" x2="246.4" y2="505.2" stroke="#000" stroke-width="2.0" stroke-linecap="butt"/><line x1="356.6" y1="955.0" x2="356.6" y2="950.5" stroke="#000" stroke-width="2.0" stroke-linecap="butt"/><line x1="356.6" y1="496.7" x2="356.6" y2="501.2" stroke="#000" stroke-width="2.0" stroke-linecap="butt"/><line x1="466.8" y1="955.0" x2="466.8" y2="946.5" stroke="#000" stroke-width="2.0" stroke-linecap="butt"/><line x1="466.8" y1="496.7" x2="466.8" y2="505.2" stroke="#000" stroke-width="2.0" stroke-linecap="butt"/><line x1="576.9" y1="955.0" x2="576.9" y2="950.5" stroke="#000" stroke-width="2.0" stroke-linecap="butt"/><line x1="576.9" y1="496.7" x2="576.9" y2="501.2" stroke="#000" stroke-width="2.0" stroke-linecap="butt"/><line x1="687.1" y1="955.0" x2="687.1" y2="946.5" stroke="#000" stroke-width="2.0" stroke-linecap="butt"/><line x1="687.1" y1="496.7" x2="687.1" y2="505.2" stroke="#000" stroke-width="2.0" stroke-linecap="butt"/><line x1="796.2" y1="955.0" x2="796.2" y2="946.5" stroke="#000" stroke-width="2.0" stroke-linecap="butt"/><line x1="796.2" y1="496.7" x2="796.2" y2="505.2" stroke="#000" stroke-width="2.0" stroke-linecap="butt"/><line x1="906.4" y1="955.0" x2="906.4" y2="950.5" stroke="#000" stroke-width="2.0" stroke-linecap="butt"/><line x1="906.4" y1="496.7" x2="906.4" y2="501.2" stroke="#000" stroke-width="2.0" stroke-linecap="butt"/><line x1="1016.6" y1="955.0" x2="1016.6" y2="946.5" stroke="#000" stroke-width="2.0" stroke-linecap="butt"/><line x1="1016.6" y1="496.7" x2="1016.6" y2="505.2" stroke="#000" stroke-width="2.0" stroke-linecap="butt"/><line x1="1126.7" y1="955.0" x2="1126.7" y2="950.5" stroke="#000" stroke-width="2.0" stroke-linecap="butt"/><line x1="1126.7" y1="496.7" x2="1126.7" y2="501.2" stroke="#000" stroke-width="2.0" stroke-linecap="butt"/><line x1="1236.9" y1="955.0" x2="1236.9" y2="946.5" stroke="#000" stroke-width="2.0" stroke-linecap="butt"/><line x1="1236.9" y1="496.7" x2="1236.9" y2="505.2" stroke="#000" stroke-width="2.0" stroke-linecap="butt"/><line x1="136.5" y1="922.0" x2="145.0" y2="922.0" stroke="#000" stroke-width="2.0" stroke-linecap="butt"/><line x1="1346.6" y1="922.0" x2="1338.1" y2="922.0" stroke="#000" stroke-width="2.0" stroke-linecap="butt"/><line x1="136.5" y1="840.1" x2="141.0" y2="840.1" stroke="#000" stroke-width="2.0" stroke-linecap="butt"/><line x1="1346.6" y1="840.1" x2="1342.1" y2="840.1" stroke="#000" stroke-width="2.0" stroke-linecap="butt"/><line x1="136.5" y1="758.3" x2="145.0" y2="758.3" stroke="#000" stroke-width="2.0" stroke-linecap="butt"/><line x1="1346.6" y1="758.3" x2="1338.1" y2="758.3" stroke="#000" stroke-width="2.0" stroke-linecap="butt"/><line x1="136.5" y1="676.5" x2="141.0" y2="676.5" stroke="#000" stroke-width="2.0" stroke-linecap="butt"/><line x1="1346.6" y1="676.5" x2="1342.1" y2="676.5" stroke="#000" stroke-width="2.0" stroke-linecap="butt"/><line x1="136.5" y1="594.6" x2="145.0" y2="594.6" stroke="#000" stroke-width="2.0" stroke-linecap="butt"/><line x1="1346.6" y1="594.6" x2="1338.1" y2="594.6" stroke="#000" stroke-width="2.0" stroke-linecap="butt"/><line x1="136.5" y1="512.8" x2="141.0" y2="512.8" stroke="#000" stroke-width="2.0" stroke-linecap="butt"/><line x1="1346.6" y1="512.8" x2="1342.1" y2="512.8" stroke="#000" stroke-width="2.0" stroke-linecap="butt"/><path d="M731,496.7 L136.5,496.7 L136.5,955.0 L731,955.0 M753.5,955.0 L1346.6,955.0 L1346.6,496.7 L753.5,496.7" fill="none" stroke="#000" stroke-width="2.0" stroke-linejoin="miter" stroke-linecap="square"/><line x1="720.7" y1="505.4" x2="741.7" y2="488.0" stroke="#000" stroke-width="2.0" stroke-linecap="butt"/><line x1="741.7" y1="505.4" x2="762.8" y2="488.0" stroke="#000" stroke-width="2.0" stroke-linecap="butt"/><line x1="720.7" y1="963.4" x2="741.7" y2="946.0" stroke="#000" stroke-width="2.0" stroke-linecap="butt"/><line x1="741.7" y1="963.4" x2="762.8" y2="946.0" stroke="#000" stroke-width="2.0" stroke-linecap="butt"/><text transform="translate(125.6,604.9) scale(1,1.035)" font-family='"Liberation Sans", sans-serif' font-size="34.5" text-anchor="end" >1.0</text><text transform="translate(125.6,768.6) scale(1,1.035)" font-family='"Liberation Sans", sans-serif' font-size="34.5" text-anchor="end" >0.5</text><text transform="translate(125.6,932.3) scale(1,1.035)" font-family='"Liberation Sans", sans-serif' font-size="34.5" text-anchor="end" >0.0</text><text transform="translate(246.4,990.8) scale(1,1.035)" font-family='"Liberation Sans", sans-serif' font-size="34.5" text-anchor="middle" >-30</text><text transform="translate(466.8,990.8) scale(1,1.035)" font-family='"Liberation Sans", sans-serif' font-size="34.5" text-anchor="middle" >-20</text><text transform="translate(687.1,990.8) scale(1,1.035)" font-family='"Liberation Sans", sans-serif' font-size="34.5" text-anchor="middle" >-10</text><text transform="translate(796.2,990.8) scale(1,1.035)" font-family='"Liberation Sans", sans-serif' font-size="34.5" text-anchor="middle" >10</text><text transform="translate(1016.6,990.8) scale(1,1.035)" font-family='"Liberation Sans", sans-serif' font-size="34.5" text-anchor="middle" >20</text><text transform="translate(1236.9,990.8) scale(1,1.035)" font-family='"Liberation Sans", sans-serif' font-size="34.5" text-anchor="middle" >30</text><text x="743.2" y="1041.8" font-family='"Liberation Sans", sans-serif' font-size="38.6" text-anchor="middle" >Frequency (GHz)</text><text transform="translate(34.0,729.2) rotate(-90)" font-family='"Liberation Sans", sans-serif' font-size="39.7" text-anchor="middle">Photon counts (a.u.)</text><text x="80.0" y="522.0" font-family='"Liberation Sans", sans-serif' font-size="32.5" text-anchor="start" >(c)</text><text x="150.0" y="541.2" font-family='"Liberation Serif", serif' font-size="38" text-anchor="start" >Stokes</text><text x="1339.2" y="540.1" font-family='"Liberation Serif", serif' font-size="38" text-anchor="end" >Anti-Stokes</text><line x1="406.2" y1="547.5" x2="406.2" y2="588.3" stroke="#b21f24" stroke-width="3.2" stroke-linecap="butt"/><line x1="468.4" y1="547.5" x2="468.4" y2="580.8" stroke="#b21f24" stroke-width="3.2" stroke-linecap="butt"/><line x1="372.1" y1="557.3" x2="392.0" y2="557.3" stroke="#b21f24" stroke-width="3.0" stroke-linecap="butt"/><path d="M404.6,557.3 L390.3,551 L390.3,563.6 Z" fill="#b21f24"/><line x1="482.0" y1="557.3" x2="502.5" y2="557.3" stroke="#b21f24" stroke-width="3.0" stroke-linecap="butt"/><path d="M470,557.3 L483.6,551 L483.6,563.6 Z" fill="#b21f24"/><g fill="#fff" stroke="#000" stroke-width="1.4"><circle cx="181.4" cy="919.9" r="4.45"/><circle cx="184.9" cy="913.9" r="4.45"/><circle cx="185.4" cy="924.6" r="4.45"/><circle cx="187.7" cy="920.5" r="4.45"/><circle cx="190.7" cy="916.3" r="4.45"/><circle cx="191.9" cy="925.9" r="4.45"/><circle cx="194.6" cy="916.3" r="4.45"/><circle cx="196.0" cy="921.8" r="4.45"/><circle cx="198.4" cy="919.3" r="4.45"/><circle cx="200.7" cy="923.2" r="4.45"/><circle cx="201.4" cy="921.1" r="4.45"/><circle cx="204.4" cy="922.3" r="4.45"/><circle cx="207.1" cy="913.1" r="4.45"/><circle cx="208.8" cy="915.5" r="4.45"/><circle cx="212.3" cy="909.5" r="4.45"/><circle cx="214.2" cy="917.0" r="4.45"/><circle cx="214.4" cy="916.0" r="4.45"/><circle cx="218.3" cy="911.0" r="4.45"/><circle cx="219.4" cy="915.5" r="4.45"/><circle cx="221.7" cy="905.4" r="4.45"/><circle cx="222.4" cy="907.3" r="4.45"/><circle cx="225.8" cy="916.9" r="4.45"/><circle cx="227.0" cy="915.7" r="4.45"/><circle cx="228.4" cy="901.4" r="4.45"/><circle cx="232.4" cy="897.9" r="4.45"/><circle cx="233.9" cy="907.9" r="4.45"/><circle cx="236.9" cy="906.3" r="4.45"/><circle cx="239.4" cy="903.7" r="4.45"/><circle cx="241.3" cy="897.7" r="4.45"/><circle cx="241.7" cy="896.2" r="4.45"/><circle cx="244.7" cy="903.2" r="4.45"/><circle cx="246.5" cy="893.0" r="4.45"/><circle cx="250.3" cy="893.8" r="4.45"/><circle cx="250.4" cy="893.3" r="4.45"/><circle cx="253.5" cy="891.9" r="4.45"/><circle cx="255.0" cy="886.9" r="4.45"/><circle cx="256.8" cy="888.1" r="4.45"/><circle cx="258.7" cy="882.8" r="4.45"/><circle cx="261.0" cy="877.6" r="4.45"/><circle cx="262.9" cy="878.6" r="4.45"/><circle cx="266.1" cy="878.3" r="4.45"/><circle cx="267.5" cy="872.6" r="4.45"/><circle cx="270.1" cy="871.7" r="4.45"/><circle cx="269.7" cy="871.8" r="4.45"/><circle cx="273.5" cy="866.6" r="4.45"/><circle cx="275.5" cy="869.6" r="4.45"/><circle cx="278.3" cy="857.6" r="4.45"/><circle cx="278.7" cy="861.6" r="4.45"/><circle cx="282.1" cy="853.5" r="4.45"/><circle cx="284.6" cy="856.9" r="4.45"/><circle cx="285.5" cy="861.6" r="4.45"/><circle cx="287.1" cy="853.3" r="4.45"/><circle cx="292.8" cy="845.0" r="4.45"/><circle cx="292.5" cy="848.4" r="4.45"/><circle cx="293.9" cy="846.4" r="4.45"/><circle cx="297.7" cy="840.2" r="4.45"/><circle cx="298.0" cy="840.2" r="4.45"/><circle cx="300.0" cy="837.8" r="4.45"/><circle cx="303.5" cy="834.2" r="4.45"/><circle cx="304.1" cy="833.1" r="4.45"/><circle cx="305.9" cy="824.8" r="4.45"/><circle cx="309.1" cy="827.5" r="4.45"/><circle cx="311.3" cy="823.6" r="4.45"/><circle cx="313.2" cy="814.3" r="4.45"/><circle cx="316.1" cy="821.4" r="4.45"/><circle cx="315.9" cy="819.0" r="4.45"/><circle cx="319.2" cy="809.0" r="4.45"/><circle cx="322.8" cy="813.5" r="4.45"/><circle cx="323.3" cy="804.2" r="4.45"/><circle cx="323.6" cy="804.0" r="4.45"/><circle cx="327.3" cy="796.3" r="4.45"/><circle cx="330.0" cy="787.1" r="4.45"/><circle cx="330.9" cy="783.6" r="4.45"/><circle cx="333.4" cy="787.3" r="4.45"/><circle cx="337.3" cy="784.9" r="4.45"/><circle cx="339.1" cy="780.0" r="4.45"/><circle cx="339.7" cy="778.6" r="4.45"/><circle cx="342.1" cy="779.8" r="4.45"/><circle cx="344.4" cy="771.1" r="4.45"/><circle cx="344.5" cy="768.2" r="4.45"/><circle cx="347.2" cy="760.5" r="4.45"/><circle cx="351.1" cy="763.2" r="4.45"/><circle cx="352.2" cy="772.3" r="4.45"/><circle cx="352.8" cy="746.6" r="4.45"/><circle cx="356.7" cy="735.3" r="4.45"/><circle cx="359.6" cy="747.2" r="4.45"/><circle cx="362.0" cy="736.2" r="4.45"/><circle cx="362.9" cy="734.6" r="4.45"/><circle cx="365.0" cy="736.1" r="4.45"/><circle cx="368.2" cy="730.7" r="4.45"/><circle cx="369.5" cy="730.9" r="4.45"/><circle cx="370.7" cy="717.7" r="4.45"/><circle cx="373.1" cy="712.9" r="4.45"/><circle cx="374.9" cy="712.9" r="4.45"/><circle cx="377.5" cy="710.8" r="4.45"/><circle cx="378.6" cy="701.1" r="4.45"/><circle cx="380.2" cy="701.1" r="4.45"/><circle cx="383.4" cy="689.1" r="4.45"/><circle cx="386.6" cy="693.1" r="4.45"/><circle cx="387.6" cy="695.3" r="4.45"/><circle cx="389.9" cy="668.1" r="4.45"/><circle cx="394.2" cy="678.8" r="4.45"/><circle cx="395.5" cy="680.5" r="4.45"/><circle cx="395.0" cy="672.4" r="4.45"/><circle cx="398.0" cy="671.7" r="4.45"/><circle cx="401.2" cy="675.0" r="4.45"/><circle cx="402.2" cy="663.2" r="4.45"/><circle cx="403.9" cy="655.5" r="4.45"/><circle cx="406.1" cy="656.2" r="4.45"/><circle cx="409.3" cy="655.1" r="4.45"/><circle cx="409.7" cy="646.9" r="4.45"/><circle cx="413.3" cy="634.4" r="4.45"/><circle cx="414.2" cy="642.0" r="4.45"/><circle cx="417.9" cy="632.8" r="4.45"/><circle cx="419.4" cy="637.0" r="4.45"/><circle cx="421.1" cy="625.9" r="4.45"/><circle cx="424.6" cy="618.3" r="4.45"/><circle cx="425.5" cy="627.9" r="4.45"/><circle cx="428.5" cy="619.5" r="4.45"/><circle cx="427.9" cy="616.9" r="4.45"/><circle cx="431.4" cy="621.0" r="4.45"/><circle cx="434.5" cy="609.1" r="4.45"/><circle cx="435.4" cy="591.8" r="4.45"/><circle cx="437.6" cy="604.4" r="4.45"/><circle cx="440.6" cy="606.3" r="4.45"/><circle cx="442.6" cy="587.8" r="4.45"/><circle cx="443.9" cy="606.3" r="4.45"/><circle cx="444.9" cy="597.4" r="4.45"/><circle cx="448.0" cy="593.9" r="4.45"/><circle cx="450.3" cy="601.2" r="4.45"/><circle cx="452.7" cy="591.8" r="4.45"/><circle cx="454.5" cy="592.4" r="4.45"/><circle cx="456.2" cy="593.1" r="4.45"/><circle cx="458.9" cy="591.8" r="4.45"/><circle cx="460.3" cy="589.8" r="4.45"/><circle cx="462.8" cy="591.6" r="4.45"/><circle cx="464.0" cy="578.9" r="4.45"/><circle cx="466.7" cy="600.0" r="4.45"/><circle cx="468.0" cy="605.9" r="4.45"/><circle cx="470.7" cy="588.1" r="4.45"/><circle cx="472.6" cy="596.3" r="4.45"/><circle cx="474.1" cy="592.8" r="4.45"/><circle cx="478.6" cy="602.3" r="4.45"/><circle cx="480.5" cy="595.8" r="4.45"/><circle cx="481.7" cy="592.8" r="4.45"/><circle cx="484.5" cy="602.8" r="4.45"/><circle cx="484.7" cy="600.6" r="4.45"/><circle cx="487.5" cy="608.5" r="4.45"/><circle cx="488.3" cy="620.2" r="4.45"/><circle cx="491.2" cy="595.6" r="4.45"/><circle cx="494.1" cy="623.8" r="4.45"/><circle cx="496.2" cy="604.0" r="4.45"/><circle cx="498.4" cy="618.0" r="4.45"/><circle cx="501.2" cy="612.1" r="4.45"/><circle cx="501.5" cy="612.5" r="4.45"/><circle cx="504.1" cy="613.0" r="4.45"/><circle cx="507.2" cy="624.2" r="4.45"/><circle cx="509.3" cy="629.3" r="4.45"/><circle cx="511.0" cy="634.1" r="4.45"/><circle cx="513.3" cy="632.7" r="4.45"/><circle cx="515.2" cy="629.9" r="4.45"/><circle cx="517.7" cy="623.5" r="4.45"/><circle cx="518.2" cy="634.5" r="4.45"/><circle cx="520.8" cy="644.2" r="4.45"/><circle cx="523.3" cy="656.3" r="4.45"/><circle cx="523.1" cy="656.7" r="4.45"/><circle cx="528.1" cy="634.4" r="4.45"/><circle cx="529.9" cy="653.8" r="4.45"/><circle cx="530.6" cy="653.1" r="4.45"/><circle cx="533.8" cy="662.8" r="4.45"/><circle cx="535.3" cy="662.2" r="4.45"/><circle cx="536.8" cy="667.5" r="4.45"/><circle cx="539.2" cy="668.6" r="4.45"/><circle cx="541.2" cy="678.1" r="4.45"/><circle cx="544.4" cy="679.8" r="4.45"/><circle cx="544.7" cy="676.6" r="4.45"/><circle cx="547.8" cy="686.6" r="4.45"/><circle cx="551.4" cy="680.3" r="4.45"/><circle cx="552.4" cy="686.5" r="4.45"/><circle cx="553.8" cy="700.2" r="4.45"/><circle cx="557.4" cy="703.6" r="4.45"/><circle cx="558.4" cy="694.5" r="4.45"/><circle cx="559.4" cy="706.8" r="4.45"/><circle cx="563.0" cy="710.9" r="4.45"/><circle cx="564.2" cy="701.9" r="4.45"/><circle cx="564.9" cy="722.6" r="4.45"/><circle cx="568.4" cy="722.3" r="4.45"/><circle cx="571.3" cy="725.1" r="4.45"/><circle cx="573.0" cy="714.0" r="4.45"/><circle cx="576.0" cy="732.2" r="4.45"/><circle cx="577.2" cy="727.9" r="4.45"/><circle cx="577.0" cy="739.8" r="4.45"/><circle cx="581.9" cy="744.8" r="4.45"/><circle cx="584.6" cy="737.6" r="4.45"/><circle cx="585.8" cy="744.8" r="4.45"/><circle cx="588.4" cy="753.0" r="4.45"/><circle cx="588.0" cy="751.6" r="4.45"/><circle cx="592.6" cy="766.5" r="4.45"/><circle cx="594.8" cy="758.0" r="4.45"/><circle cx="596.0" cy="766.6" r="4.45"/><circle cx="599.0" cy="768.5" r="4.45"/><circle cx="600.0" cy="763.2" r="4.45"/><circle cx="603.2" cy="768.7" r="4.45"/><circle cx="604.0" cy="771.9" r="4.45"/><circle cx="605.7" cy="777.2" r="4.45"/><circle cx="609.5" cy="778.0" r="4.45"/><circle cx="610.9" cy="780.4" r="4.45"/><circle cx="612.2" cy="780.8" r="4.45"/><circle cx="614.9" cy="778.6" r="4.45"/><circle cx="615.9" cy="783.6" r="4.45"/><circle cx="618.6" cy="786.4" r="4.45"/><circle cx="621.6" cy="786.0" r="4.45"/><circle cx="620.9" cy="787.1" r="4.45"/><circle cx="626.1" cy="794.0" r="4.45"/><circle cx="627.6" cy="793.0" r="4.45"/><circle cx="630.0" cy="800.5" r="4.45"/><circle cx="631.9" cy="797.8" r="4.45"/><circle cx="632.9" cy="800.5" r="4.45"/><circle cx="636.0" cy="807.0" r="4.45"/><circle cx="637.1" cy="810.4" r="4.45"/><circle cx="639.3" cy="801.7" r="4.45"/><circle cx="641.7" cy="809.4" r="4.45"/><circle cx="644.4" cy="808.2" r="4.45"/><circle cx="647.7" cy="811.3" r="4.45"/><circle cx="647.0" cy="817.1" r="4.45"/><circle cx="649.3" cy="810.9" r="4.45"/><circle cx="651.1" cy="825.4" r="4.45"/><circle cx="653.9" cy="816.8" r="4.45"/><circle cx="654.9" cy="816.7" r="4.45"/><circle cx="657.2" cy="827.2" r="4.45"/><circle cx="661.3" cy="826.0" r="4.45"/><circle cx="664.3" cy="822.5" r="4.45"/><circle cx="662.5" cy="823.1" r="4.45"/><circle cx="666.6" cy="831.8" r="4.45"/><circle cx="669.0" cy="828.4" r="4.45"/><circle cx="670.9" cy="827.7" r="4.45"/><circle cx="673.7" cy="831.2" r="4.45"/><circle cx="675.4" cy="832.3" r="4.45"/><circle cx="677.5" cy="831.3" r="4.45"/><circle cx="679.0" cy="829.8" r="4.45"/></g><path d="M190.1,919.5 L193.6,918.1 L197.1,916.7 L200.6,915.2 L204.1,913.8 L207.6,912.3 L211.1,910.8 L214.6,909.3 L218.1,907.7 L221.6,906.1 L225.0,904.5 L228.5,902.8 L232.0,901.1 L235.5,899.3 L239.0,897.4 L242.5,895.3 L246.0,893.1 L249.5,890.8 L253.0,888.2 L256.5,885.4 L260.0,882.5 L263.5,879.4 L267.0,876.1 L270.5,872.7 L274.0,869.1 L277.5,865.5 L281.0,861.7 L284.5,857.9 L288.0,853.9 L291.5,849.9 L294.9,845.7 L298.4,841.5 L301.9,837.1 L305.4,832.7 L308.9,828.1 L312.4,823.5 L315.9,818.6 L319.4,813.6 L322.9,808.4 L326.4,803.0 L329.9,797.4 L333.4,791.5 L336.9,785.4 L340.4,779.1 L343.9,772.5 L347.4,765.8 L350.9,759.0 L354.4,752.0 L357.9,744.9 L361.4,737.8 L364.8,730.7 L368.3,723.5 L371.8,716.3 L375.3,709.2 L378.8,702.1 L382.3,695.1 L385.8,688.1 L389.3,681.3 L392.8,674.6 L396.3,668.0 L399.8,661.6 L403.3,655.4 L406.8,649.4 L410.3,643.5 L413.8,638.0 L417.3,632.6 L420.8,627.6 L424.3,622.8 L427.8,618.4 L431.3,614.2 L434.7,610.4 L438.2,607.0 L441.7,603.9 L445.2,601.3 L448.7,599.0 L452.2,597.1 L455.7,595.6 L459.2,594.5 L462.7,593.8 L466.2,593.6 L469.7,593.8 L473.2,594.3 L476.7,595.3 L480.2,596.7 L483.7,598.5 L487.2,600.6 L490.7,603.1 L494.2,605.9 L497.7,609.1 L501.2,612.6 L504.6,616.3 L508.1,620.3 L511.6,624.5 L515.1,628.9 L518.6,633.6 L522.1,638.5 L525.6,643.6 L529.1,648.9 L532.6,654.5 L536.1,660.2 L539.6,666.1 L543.1,672.0 L546.6,678.1 L550.1,684.2 L553.6,690.4 L557.1,696.5 L560.6,702.7 L564.1,708.7 L567.6,714.8 L571.1,720.7 L574.5,726.5 L578.0,732.2 L581.5,737.8 L585.0,743.2 L588.5,748.5 L592.0,753.6 L595.5,758.5 L599.0,763.2 L602.5,767.8 L606.0,772.1 L609.5,776.3 L613.0,780.3 L616.5,784.1 L620.0,787.7 L623.5,791.1 L627.0,794.4 L630.5,797.5 L634.0,800.5 L637.5,803.3 L641.0,806.0 L644.4,808.5 L647.9,810.9 L651.4,813.1 L654.9,815.2 L658.4,817.2 L661.9,819.0 L665.4,820.8 L668.9,822.4 L672.4,823.9 L675.9,825.2" fill="none" stroke="#e8282e" stroke-width="5.6" stroke-linecap="round" stroke-linejoin="round"/><g fill="#fff" stroke="#000" stroke-width="1.4"><rect x="176.4" y="912.8" width="7.4" height="7.4"/><rect x="178.7" y="913.8" width="7.4" height="7.4"/><rect x="182.7" y="913.9" width="7.4" height="7.4"/><rect x="182.9" y="911.4" width="7.4" height="7.4"/><rect x="183.8" y="907.6" width="7.4" height="7.4"/><rect x="186.6" y="898.4" width="7.4" height="7.4"/><rect x="188.5" y="905.6" width="7.4" height="7.4"/><rect x="189.6" y="900.9" width="7.4" height="7.4"/><rect x="193.3" y="894.2" width="7.4" height="7.4"/><rect x="195.1" y="897.8" width="7.4" height="7.4"/><rect x="196.9" y="892.6" width="7.4" height="7.4"/><rect x="200.1" y="892.8" width="7.4" height="7.4"/><rect x="199.8" y="888.1" width="7.4" height="7.4"/><rect x="203.6" y="882.5" width="7.4" height="7.4"/><rect x="205.1" y="875.6" width="7.4" height="7.4"/><rect x="206.4" y="876.1" width="7.4" height="7.4"/><rect x="210.0" y="868.6" width="7.4" height="7.4"/><rect x="212.3" y="871.0" width="7.4" height="7.4"/><rect x="213.5" y="864.2" width="7.4" height="7.4"/><rect x="215.1" y="859.7" width="7.4" height="7.4"/><rect x="217.0" y="862.0" width="7.4" height="7.4"/><rect x="219.5" y="857.5" width="7.4" height="7.4"/><rect x="220.8" y="851.2" width="7.4" height="7.4"/><rect x="224.2" y="853.2" width="7.4" height="7.4"/><rect x="226.6" y="839.7" width="7.4" height="7.4"/><rect x="228.8" y="834.2" width="7.4" height="7.4"/><rect x="230.8" y="841.0" width="7.4" height="7.4"/><rect x="232.0" y="837.1" width="7.4" height="7.4"/><rect x="234.2" y="828.8" width="7.4" height="7.4"/><rect x="236.9" y="831.7" width="7.4" height="7.4"/><rect x="238.6" y="818.3" width="7.4" height="7.4"/><rect x="240.8" y="825.5" width="7.4" height="7.4"/><rect x="242.3" y="820.5" width="7.4" height="7.4"/><rect x="244.8" y="817.4" width="7.4" height="7.4"/><rect x="247.2" y="808.2" width="7.4" height="7.4"/><rect x="251.4" y="806.4" width="7.4" height="7.4"/><rect x="251.1" y="798.8" width="7.4" height="7.4"/><rect x="253.2" y="810.9" width="7.4" height="7.4"/><rect x="256.9" y="812.6" width="7.4" height="7.4"/><rect x="256.2" y="792.0" width="7.4" height="7.4"/><rect x="260.8" y="780.6" width="7.4" height="7.4"/><rect x="261.5" y="775.7" width="7.4" height="7.4"/><rect x="263.6" y="789.3" width="7.4" height="7.4"/><rect x="264.7" y="778.2" width="7.4" height="7.4"/><rect x="270.3" y="767.5" width="7.4" height="7.4"/><rect x="269.5" y="770.7" width="7.4" height="7.4"/><rect x="271.5" y="763.0" width="7.4" height="7.4"/><rect x="275.1" y="757.3" width="7.4" height="7.4"/><rect x="274.1" y="750.9" width="7.4" height="7.4"/><rect x="278.4" y="750.7" width="7.4" height="7.4"/><rect x="280.2" y="744.0" width="7.4" height="7.4"/><rect x="281.6" y="748.5" width="7.4" height="7.4"/><rect x="284.2" y="733.8" width="7.4" height="7.4"/><rect x="287.7" y="731.4" width="7.4" height="7.4"/><rect x="288.3" y="731.9" width="7.4" height="7.4"/><rect x="291.9" y="725.7" width="7.4" height="7.4"/><rect x="294.8" y="719.7" width="7.4" height="7.4"/><rect x="295.3" y="736.7" width="7.4" height="7.4"/><rect x="296.9" y="716.6" width="7.4" height="7.4"/><rect x="299.1" y="716.7" width="7.4" height="7.4"/><rect x="301.5" y="709.5" width="7.4" height="7.4"/><rect x="301.4" y="704.8" width="7.4" height="7.4"/><rect x="306.0" y="711.5" width="7.4" height="7.4"/><rect x="307.0" y="701.8" width="7.4" height="7.4"/><rect x="308.8" y="690.9" width="7.4" height="7.4"/><rect x="311.5" y="692.9" width="7.4" height="7.4"/><rect x="314.4" y="690.0" width="7.4" height="7.4"/><rect x="317.0" y="683.3" width="7.4" height="7.4"/><rect x="317.4" y="678.2" width="7.4" height="7.4"/><rect x="319.9" y="667.4" width="7.4" height="7.4"/><rect x="323.6" y="659.0" width="7.4" height="7.4"/><rect x="324.2" y="668.1" width="7.4" height="7.4"/><rect x="325.1" y="657.8" width="7.4" height="7.4"/><rect x="329.1" y="663.9" width="7.4" height="7.4"/><rect x="329.2" y="651.4" width="7.4" height="7.4"/><rect x="333.0" y="662.5" width="7.4" height="7.4"/><rect x="334.2" y="643.6" width="7.4" height="7.4"/><rect x="335.5" y="657.3" width="7.4" height="7.4"/><rect x="338.7" y="657.7" width="7.4" height="7.4"/><rect x="342.2" y="641.9" width="7.4" height="7.4"/><rect x="343.2" y="644.1" width="7.4" height="7.4"/><rect x="346.1" y="634.9" width="7.4" height="7.4"/><rect x="347.0" y="628.0" width="7.4" height="7.4"/><rect x="349.8" y="630.6" width="7.4" height="7.4"/><rect x="350.9" y="613.6" width="7.4" height="7.4"/><rect x="353.6" y="617.4" width="7.4" height="7.4"/><rect x="356.3" y="615.4" width="7.4" height="7.4"/><rect x="356.9" y="612.3" width="7.4" height="7.4"/><rect x="358.7" y="614.1" width="7.4" height="7.4"/><rect x="361.9" y="614.1" width="7.4" height="7.4"/><rect x="362.7" y="608.3" width="7.4" height="7.4"/><rect x="365.4" y="614.5" width="7.4" height="7.4"/><rect x="369.1" y="595.4" width="7.4" height="7.4"/><rect x="369.7" y="610.1" width="7.4" height="7.4"/><rect x="373.2" y="598.7" width="7.4" height="7.4"/><rect x="374.3" y="618.1" width="7.4" height="7.4"/><rect x="377.9" y="595.2" width="7.4" height="7.4"/><rect x="377.7" y="591.3" width="7.4" height="7.4"/><rect x="380.2" y="590.4" width="7.4" height="7.4"/><rect x="382.4" y="602.5" width="7.4" height="7.4"/><rect x="383.8" y="602.2" width="7.4" height="7.4"/><rect x="386.9" y="587.9" width="7.4" height="7.4"/><rect x="389.6" y="584.3" width="7.4" height="7.4"/><rect x="390.1" y="600.2" width="7.4" height="7.4"/><rect x="392.5" y="581.9" width="7.4" height="7.4"/><rect x="395.9" y="584.4" width="7.4" height="7.4"/><rect x="397.2" y="596.1" width="7.4" height="7.4"/><rect x="398.2" y="597.7" width="7.4" height="7.4"/><rect x="403.1" y="583.4" width="7.4" height="7.4"/><rect x="403.6" y="578.4" width="7.4" height="7.4"/><rect x="406.8" y="593.7" width="7.4" height="7.4"/><rect x="408.9" y="591.8" width="7.4" height="7.4"/><rect x="410.0" y="591.2" width="7.4" height="7.4"/><rect x="412.1" y="583.1" width="7.4" height="7.4"/><rect x="414.3" y="593.8" width="7.4" height="7.4"/><rect x="416.0" y="591.5" width="7.4" height="7.4"/><rect x="418.5" y="594.7" width="7.4" height="7.4"/><rect x="419.0" y="603.2" width="7.4" height="7.4"/><rect x="422.5" y="593.1" width="7.4" height="7.4"/><rect x="424.3" y="589.1" width="7.4" height="7.4"/><rect x="428.3" y="606.8" width="7.4" height="7.4"/><rect x="428.3" y="587.4" width="7.4" height="7.4"/><rect x="428.7" y="610.0" width="7.4" height="7.4"/><rect x="433.0" y="607.1" width="7.4" height="7.4"/><rect x="434.9" y="611.6" width="7.4" height="7.4"/><rect x="436.8" y="607.6" width="7.4" height="7.4"/><rect x="438.4" y="613.5" width="7.4" height="7.4"/><rect x="439.3" y="618.7" width="7.4" height="7.4"/><rect x="444.0" y="613.9" width="7.4" height="7.4"/><rect x="444.4" y="614.9" width="7.4" height="7.4"/><rect x="447.1" y="626.3" width="7.4" height="7.4"/><rect x="449.7" y="617.6" width="7.4" height="7.4"/><rect x="452.1" y="635.9" width="7.4" height="7.4"/><rect x="452.0" y="626.1" width="7.4" height="7.4"/><rect x="455.3" y="629.5" width="7.4" height="7.4"/><rect x="457.7" y="641.7" width="7.4" height="7.4"/><rect x="460.4" y="636.0" width="7.4" height="7.4"/><rect x="461.3" y="666.4" width="7.4" height="7.4"/><rect x="465.4" y="645.0" width="7.4" height="7.4"/><rect x="466.6" y="647.4" width="7.4" height="7.4"/><rect x="468.2" y="643.9" width="7.4" height="7.4"/><rect x="471.9" y="647.1" width="7.4" height="7.4"/><rect x="471.6" y="656.6" width="7.4" height="7.4"/><rect x="476.1" y="649.7" width="7.4" height="7.4"/><rect x="476.7" y="656.3" width="7.4" height="7.4"/><rect x="478.7" y="659.1" width="7.4" height="7.4"/><rect x="481.0" y="674.4" width="7.4" height="7.4"/><rect x="481.6" y="663.8" width="7.4" height="7.4"/><rect x="484.0" y="668.6" width="7.4" height="7.4"/><rect x="486.1" y="682.0" width="7.4" height="7.4"/><rect x="488.9" y="680.1" width="7.4" height="7.4"/><rect x="491.1" y="682.1" width="7.4" height="7.4"/><rect x="493.4" y="683.4" width="7.4" height="7.4"/><rect x="497.2" y="685.2" width="7.4" height="7.4"/><rect x="498.6" y="701.9" width="7.4" height="7.4"/><rect x="501.4" y="710.3" width="7.4" height="7.4"/><rect x="500.9" y="706.5" width="7.4" height="7.4"/><rect x="503.7" y="700.7" width="7.4" height="7.4"/><rect x="506.2" y="713.8" width="7.4" height="7.4"/><rect x="506.2" y="716.8" width="7.4" height="7.4"/><rect x="510.8" y="714.4" width="7.4" height="7.4"/><rect x="513.0" y="714.7" width="7.4" height="7.4"/><rect x="514.6" y="705.8" width="7.4" height="7.4"/><rect x="516.6" y="721.3" width="7.4" height="7.4"/><rect x="517.8" y="727.7" width="7.4" height="7.4"/><rect x="520.3" y="734.5" width="7.4" height="7.4"/><rect x="523.1" y="713.3" width="7.4" height="7.4"/><rect x="525.6" y="733.0" width="7.4" height="7.4"/><rect x="527.2" y="735.0" width="7.4" height="7.4"/><rect x="530.2" y="726.7" width="7.4" height="7.4"/><rect x="531.0" y="727.4" width="7.4" height="7.4"/><rect x="532.6" y="745.2" width="7.4" height="7.4"/><rect x="535.1" y="738.7" width="7.4" height="7.4"/><rect x="537.4" y="750.9" width="7.4" height="7.4"/><rect x="539.1" y="747.3" width="7.4" height="7.4"/><rect x="541.8" y="747.1" width="7.4" height="7.4"/><rect x="543.3" y="748.4" width="7.4" height="7.4"/><rect x="546.8" y="759.8" width="7.4" height="7.4"/><rect x="548.1" y="768.0" width="7.4" height="7.4"/><rect x="550.3" y="760.2" width="7.4" height="7.4"/><rect x="552.1" y="762.2" width="7.4" height="7.4"/><rect x="552.4" y="768.1" width="7.4" height="7.4"/><rect x="555.4" y="763.9" width="7.4" height="7.4"/><rect x="557.5" y="769.5" width="7.4" height="7.4"/><rect x="559.9" y="770.4" width="7.4" height="7.4"/><rect x="564.3" y="772.4" width="7.4" height="7.4"/><rect x="564.5" y="785.5" width="7.4" height="7.4"/><rect x="567.5" y="786.6" width="7.4" height="7.4"/><rect x="568.7" y="787.3" width="7.4" height="7.4"/><rect x="571.5" y="788.1" width="7.4" height="7.4"/><rect x="571.8" y="800.0" width="7.4" height="7.4"/><rect x="573.5" y="787.4" width="7.4" height="7.4"/><rect x="576.4" y="787.0" width="7.4" height="7.4"/><rect x="579.1" y="794.6" width="7.4" height="7.4"/><rect x="580.1" y="803.0" width="7.4" height="7.4"/><rect x="582.8" y="795.7" width="7.4" height="7.4"/><rect x="584.2" y="794.5" width="7.4" height="7.4"/><rect x="588.1" y="808.1" width="7.4" height="7.4"/><rect x="589.9" y="807.2" width="7.4" height="7.4"/><rect x="591.9" y="804.3" width="7.4" height="7.4"/><rect x="593.6" y="809.6" width="7.4" height="7.4"/><rect x="596.0" y="807.9" width="7.4" height="7.4"/><rect x="597.9" y="810.6" width="7.4" height="7.4"/><rect x="599.9" y="811.8" width="7.4" height="7.4"/><rect x="602.4" y="812.6" width="7.4" height="7.4"/><rect x="603.4" y="822.2" width="7.4" height="7.4"/><rect x="607.0" y="825.0" width="7.4" height="7.4"/><rect x="606.9" y="822.1" width="7.4" height="7.4"/><rect x="611.1" y="818.2" width="7.4" height="7.4"/><rect x="612.8" y="826.5" width="7.4" height="7.4"/><rect x="613.9" y="831.5" width="7.4" height="7.4"/><rect x="616.7" y="832.9" width="7.4" height="7.4"/><rect x="618.5" y="821.7" width="7.4" height="7.4"/><rect x="620.8" y="832.0" width="7.4" height="7.4"/><rect x="622.6" y="833.8" width="7.4" height="7.4"/><rect x="624.5" y="828.6" width="7.4" height="7.4"/><rect x="626.9" y="833.8" width="7.4" height="7.4"/><rect x="628.7" y="835.2" width="7.4" height="7.4"/><rect x="631.7" y="835.2" width="7.4" height="7.4"/><rect x="632.3" y="834.1" width="7.4" height="7.4"/><rect x="635.4" y="841.2" width="7.4" height="7.4"/><rect x="638.2" y="846.9" width="7.4" height="7.4"/><rect x="639.6" y="838.9" width="7.4" height="7.4"/><rect x="640.7" y="832.7" width="7.4" height="7.4"/><rect x="642.6" y="840.0" width="7.4" height="7.4"/><rect x="645.6" y="849.5" width="7.4" height="7.4"/><rect x="648.9" y="850.2" width="7.4" height="7.4"/><rect x="649.7" y="849.1" width="7.4" height="7.4"/><rect x="652.1" y="849.7" width="7.4" height="7.4"/><rect x="653.0" y="850.1" width="7.4" height="7.4"/><rect x="657.3" y="866.7" width="7.4" height="7.4"/><rect x="658.0" y="839.5" width="7.4" height="7.4"/><rect x="662.1" y="858.5" width="7.4" height="7.4"/><rect x="662.4" y="848.1" width="7.4" height="7.4"/><rect x="664.6" y="851.4" width="7.4" height="7.4"/><rect x="667.1" y="857.1" width="7.4" height="7.4"/><rect x="668.9" y="853.9" width="7.4" height="7.4"/><rect x="671.4" y="855.2" width="7.4" height="7.4"/><rect x="672.7" y="859.9" width="7.4" height="7.4"/><rect x="675.8" y="850.5" width="7.4" height="7.4"/></g><path d="M179.7,923.2 L183.3,919.2 L186.8,915.0 L190.4,910.7 L194.0,906.2 L197.5,901.6 L201.1,896.9 L204.7,892.0 L208.3,887.0 L211.8,881.9 L215.4,876.7 L219.0,871.4 L222.5,866.0 L226.1,860.5 L229.7,854.9 L233.2,849.1 L236.8,843.3 L240.4,837.4 L244.0,831.4 L247.5,825.3 L251.1,819.1 L254.7,812.8 L258.2,806.5 L261.8,800.0 L265.4,793.5 L268.9,787.0 L272.5,780.3 L276.1,773.6 L279.7,766.8 L283.2,759.9 L286.8,753.1 L290.4,746.2 L293.9,739.2 L297.5,732.3 L301.1,725.5 L304.6,718.6 L308.2,711.8 L311.8,705.1 L315.4,698.5 L318.9,691.9 L322.5,685.4 L326.1,679.0 L329.6,672.8 L333.2,666.6 L336.8,660.6 L340.3,654.7 L343.9,648.9 L347.5,643.3 L351.0,637.9 L354.6,632.7 L358.2,627.8 L361.8,623.1 L365.3,618.6 L368.9,614.5 L372.5,610.7 L376.0,607.2 L379.6,604.1 L383.2,601.4 L386.7,599.1 L390.3,597.2 L393.9,595.7 L397.5,594.6 L401.0,594.0 L404.6,593.7 L408.2,593.8 L411.7,594.3 L415.3,595.2 L418.9,596.4 L422.4,597.9 L426.0,599.7 L429.6,601.8 L433.2,604.3 L436.7,607.0 L440.3,610.1 L443.9,613.4 L447.4,616.9 L451.0,620.7 L454.6,624.8 L458.1,629.0 L461.7,633.5 L465.3,638.1 L468.9,642.9 L472.4,647.9 L476.0,653.0 L479.6,658.2 L483.1,663.4 L486.7,668.8 L490.3,674.2 L493.8,679.7 L497.4,685.2 L501.0,690.7 L504.6,696.3 L508.1,701.9 L511.7,707.5 L515.3,713.0 L518.8,718.6 L522.4,724.0 L526.0,729.5 L529.5,734.8 L533.1,740.1 L536.7,745.3 L540.2,750.3 L543.8,755.3 L547.4,760.1 L551.0,764.8 L554.5,769.3 L558.1,773.7 L561.7,778.0 L565.2,782.1 L568.8,786.1 L572.4,789.9 L575.9,793.6 L579.5,797.1 L583.1,800.5 L586.7,803.8 L590.2,807.0 L593.8,810.0 L597.4,813.0 L600.9,815.8 L604.5,818.6 L608.1,821.3 L611.6,823.8 L615.2,826.3 L618.8,828.7 L622.4,831.0 L625.9,833.2 L629.5,835.3 L633.1,837.3 L636.6,839.1 L640.2,840.9 L643.8,842.6 L647.3,844.2 L650.9,845.7 L654.5,847.1 L658.1,848.4 L661.6,849.6 L665.2,850.7 L668.8,851.7 L672.3,852.6 L675.9,853.5" fill="none" stroke="#1f4e9f" stroke-width="5.6" stroke-linecap="round" stroke-linejoin="round"/><g fill="#fff" stroke="#000" stroke-width="1.4"><rect x="762.8" y="830.0" width="7.4" height="7.4"/><rect x="766.5" y="824.0" width="7.4" height="7.4"/><rect x="767.9" y="835.4" width="7.4" height="7.4"/><rect x="770.2" y="831.8" width="7.4" height="7.4"/><rect x="772.9" y="838.8" width="7.4" height="7.4"/><rect x="774.6" y="827.5" width="7.4" height="7.4"/><rect x="777.9" y="833.7" width="7.4" height="7.4"/><rect x="778.6" y="837.3" width="7.4" height="7.4"/><rect x="780.7" y="822.7" width="7.4" height="7.4"/><rect x="782.8" y="839.3" width="7.4" height="7.4"/><rect x="785.0" y="829.5" width="7.4" height="7.4"/><rect x="787.4" y="828.4" width="7.4" height="7.4"/><rect x="788.4" y="827.6" width="7.4" height="7.4"/><rect x="790.3" y="825.4" width="7.4" height="7.4"/><rect x="794.4" y="833.0" width="7.4" height="7.4"/><rect x="795.7" y="828.9" width="7.4" height="7.4"/><rect x="797.0" y="831.1" width="7.4" height="7.4"/><rect x="800.1" y="822.1" width="7.4" height="7.4"/><rect x="801.8" y="827.6" width="7.4" height="7.4"/><rect x="802.5" y="816.1" width="7.4" height="7.4"/><rect x="807.4" y="827.1" width="7.4" height="7.4"/><rect x="810.1" y="818.5" width="7.4" height="7.4"/><rect x="811.7" y="817.7" width="7.4" height="7.4"/><rect x="812.9" y="815.4" width="7.4" height="7.4"/><rect x="814.5" y="808.4" width="7.4" height="7.4"/><rect x="817.2" y="812.9" width="7.4" height="7.4"/><rect x="818.9" y="816.5" width="7.4" height="7.4"/><rect x="821.2" y="815.1" width="7.4" height="7.4"/><rect x="824.5" y="809.5" width="7.4" height="7.4"/><rect x="826.9" y="817.2" width="7.4" height="7.4"/><rect x="827.6" y="800.9" width="7.4" height="7.4"/><rect x="830.3" y="807.7" width="7.4" height="7.4"/><rect x="832.7" y="795.6" width="7.4" height="7.4"/><rect x="835.2" y="810.0" width="7.4" height="7.4"/><rect x="836.0" y="798.5" width="7.4" height="7.4"/><rect x="839.2" y="800.7" width="7.4" height="7.4"/><rect x="843.0" y="791.8" width="7.4" height="7.4"/><rect x="843.7" y="788.2" width="7.4" height="7.4"/><rect x="845.5" y="787.5" width="7.4" height="7.4"/><rect x="847.9" y="792.1" width="7.4" height="7.4"/><rect x="850.0" y="788.4" width="7.4" height="7.4"/><rect x="851.8" y="785.6" width="7.4" height="7.4"/><rect x="854.2" y="778.0" width="7.4" height="7.4"/><rect x="856.6" y="771.1" width="7.4" height="7.4"/><rect x="856.5" y="776.7" width="7.4" height="7.4"/><rect x="861.8" y="774.2" width="7.4" height="7.4"/><rect x="864.4" y="776.0" width="7.4" height="7.4"/><rect x="864.8" y="772.0" width="7.4" height="7.4"/><rect x="867.6" y="756.7" width="7.4" height="7.4"/><rect x="868.2" y="770.1" width="7.4" height="7.4"/><rect x="871.0" y="748.3" width="7.4" height="7.4"/><rect x="873.4" y="751.0" width="7.4" height="7.4"/><rect x="876.1" y="752.7" width="7.4" height="7.4"/><rect x="878.8" y="748.6" width="7.4" height="7.4"/><rect x="880.1" y="748.1" width="7.4" height="7.4"/><rect x="881.8" y="744.3" width="7.4" height="7.4"/><rect x="884.9" y="746.5" width="7.4" height="7.4"/><rect x="887.7" y="748.6" width="7.4" height="7.4"/><rect x="888.9" y="733.9" width="7.4" height="7.4"/><rect x="891.2" y="733.3" width="7.4" height="7.4"/><rect x="892.6" y="719.8" width="7.4" height="7.4"/><rect x="895.2" y="726.8" width="7.4" height="7.4"/><rect x="897.3" y="719.0" width="7.4" height="7.4"/><rect x="899.5" y="718.0" width="7.4" height="7.4"/><rect x="901.8" y="721.8" width="7.4" height="7.4"/><rect x="903.8" y="717.8" width="7.4" height="7.4"/><rect x="906.7" y="727.3" width="7.4" height="7.4"/><rect x="909.2" y="704.2" width="7.4" height="7.4"/><rect x="910.4" y="707.9" width="7.4" height="7.4"/><rect x="913.6" y="703.3" width="7.4" height="7.4"/><rect x="913.7" y="694.8" width="7.4" height="7.4"/><rect x="915.6" y="699.5" width="7.4" height="7.4"/><rect x="918.9" y="691.8" width="7.4" height="7.4"/><rect x="921.5" y="691.5" width="7.4" height="7.4"/><rect x="921.7" y="695.6" width="7.4" height="7.4"/><rect x="925.0" y="686.0" width="7.4" height="7.4"/><rect x="926.4" y="685.6" width="7.4" height="7.4"/><rect x="930.7" y="678.9" width="7.4" height="7.4"/><rect x="933.5" y="671.8" width="7.4" height="7.4"/><rect x="933.6" y="664.6" width="7.4" height="7.4"/><rect x="936.6" y="660.6" width="7.4" height="7.4"/><rect x="939.8" y="664.8" width="7.4" height="7.4"/><rect x="941.1" y="656.9" width="7.4" height="7.4"/><rect x="943.1" y="650.7" width="7.4" height="7.4"/><rect x="946.3" y="659.0" width="7.4" height="7.4"/><rect x="947.0" y="647.0" width="7.4" height="7.4"/><rect x="949.0" y="659.3" width="7.4" height="7.4"/><rect x="950.4" y="654.3" width="7.4" height="7.4"/><rect x="955.0" y="641.9" width="7.4" height="7.4"/><rect x="956.7" y="634.6" width="7.4" height="7.4"/><rect x="958.0" y="623.1" width="7.4" height="7.4"/><rect x="959.8" y="630.0" width="7.4" height="7.4"/><rect x="961.3" y="631.4" width="7.4" height="7.4"/><rect x="966.1" y="630.4" width="7.4" height="7.4"/><rect x="966.2" y="622.8" width="7.4" height="7.4"/><rect x="969.2" y="619.1" width="7.4" height="7.4"/><rect x="971.4" y="619.1" width="7.4" height="7.4"/><rect x="974.3" y="615.1" width="7.4" height="7.4"/><rect x="975.4" y="606.6" width="7.4" height="7.4"/><rect x="977.2" y="604.6" width="7.4" height="7.4"/><rect x="980.3" y="611.0" width="7.4" height="7.4"/><rect x="981.4" y="603.0" width="7.4" height="7.4"/><rect x="982.9" y="607.9" width="7.4" height="7.4"/><rect x="985.2" y="610.2" width="7.4" height="7.4"/><rect x="987.3" y="598.2" width="7.4" height="7.4"/><rect x="991.1" y="589.1" width="7.4" height="7.4"/><rect x="993.0" y="602.8" width="7.4" height="7.4"/><rect x="994.2" y="593.1" width="7.4" height="7.4"/><rect x="997.1" y="586.0" width="7.4" height="7.4"/><rect x="999.1" y="588.9" width="7.4" height="7.4"/><rect x="1000.6" y="594.6" width="7.4" height="7.4"/><rect x="1002.0" y="593.1" width="7.4" height="7.4"/><rect x="1004.5" y="594.8" width="7.4" height="7.4"/><rect x="1008.1" y="585.5" width="7.4" height="7.4"/><rect x="1008.5" y="590.4" width="7.4" height="7.4"/><rect x="1012.1" y="584.7" width="7.4" height="7.4"/><rect x="1013.3" y="584.2" width="7.4" height="7.4"/><rect x="1015.9" y="581.6" width="7.4" height="7.4"/><rect x="1018.1" y="594.0" width="7.4" height="7.4"/><rect x="1022.8" y="587.7" width="7.4" height="7.4"/><rect x="1022.5" y="588.4" width="7.4" height="7.4"/><rect x="1024.8" y="585.7" width="7.4" height="7.4"/><rect x="1028.4" y="586.6" width="7.4" height="7.4"/><rect x="1029.4" y="587.7" width="7.4" height="7.4"/><rect x="1032.3" y="596.3" width="7.4" height="7.4"/><rect x="1033.2" y="573.6" width="7.4" height="7.4"/><rect x="1036.6" y="584.6" width="7.4" height="7.4"/><rect x="1038.7" y="594.3" width="7.4" height="7.4"/><rect x="1041.1" y="598.7" width="7.4" height="7.4"/><rect x="1043.5" y="613.7" width="7.4" height="7.4"/><rect x="1044.7" y="609.8" width="7.4" height="7.4"/><rect x="1046.3" y="591.8" width="7.4" height="7.4"/><rect x="1048.1" y="603.9" width="7.4" height="7.4"/><rect x="1052.2" y="612.3" width="7.4" height="7.4"/><rect x="1051.7" y="596.6" width="7.4" height="7.4"/><rect x="1057.5" y="604.9" width="7.4" height="7.4"/><rect x="1057.6" y="615.1" width="7.4" height="7.4"/><rect x="1059.8" y="614.1" width="7.4" height="7.4"/><rect x="1063.4" y="627.2" width="7.4" height="7.4"/><rect x="1064.0" y="630.6" width="7.4" height="7.4"/><rect x="1066.3" y="625.3" width="7.4" height="7.4"/><rect x="1068.7" y="608.8" width="7.4" height="7.4"/><rect x="1071.0" y="625.4" width="7.4" height="7.4"/><rect x="1072.8" y="632.9" width="7.4" height="7.4"/><rect x="1074.8" y="652.4" width="7.4" height="7.4"/><rect x="1076.3" y="633.5" width="7.4" height="7.4"/><rect x="1079.0" y="645.3" width="7.4" height="7.4"/><rect x="1081.9" y="648.4" width="7.4" height="7.4"/><rect x="1085.1" y="651.0" width="7.4" height="7.4"/><rect x="1087.4" y="654.0" width="7.4" height="7.4"/><rect x="1088.7" y="654.7" width="7.4" height="7.4"/><rect x="1089.1" y="656.6" width="7.4" height="7.4"/><rect x="1094.0" y="669.9" width="7.4" height="7.4"/><rect x="1094.1" y="673.6" width="7.4" height="7.4"/><rect x="1096.4" y="676.9" width="7.4" height="7.4"/><rect x="1097.2" y="668.9" width="7.4" height="7.4"/><rect x="1102.0" y="679.3" width="7.4" height="7.4"/><rect x="1102.0" y="700.8" width="7.4" height="7.4"/><rect x="1104.0" y="685.0" width="7.4" height="7.4"/><rect x="1107.0" y="690.2" width="7.4" height="7.4"/><rect x="1109.9" y="690.5" width="7.4" height="7.4"/><rect x="1111.3" y="694.4" width="7.4" height="7.4"/><rect x="1113.8" y="705.8" width="7.4" height="7.4"/><rect x="1114.5" y="707.0" width="7.4" height="7.4"/><rect x="1118.9" y="713.2" width="7.4" height="7.4"/><rect x="1119.5" y="720.2" width="7.4" height="7.4"/><rect x="1122.4" y="716.8" width="7.4" height="7.4"/><rect x="1124.7" y="725.8" width="7.4" height="7.4"/><rect x="1126.4" y="729.3" width="7.4" height="7.4"/><rect x="1127.4" y="738.6" width="7.4" height="7.4"/><rect x="1131.1" y="743.9" width="7.4" height="7.4"/><rect x="1134.2" y="744.9" width="7.4" height="7.4"/><rect x="1134.4" y="746.6" width="7.4" height="7.4"/><rect x="1138.4" y="740.1" width="7.4" height="7.4"/><rect x="1140.0" y="753.2" width="7.4" height="7.4"/><rect x="1142.2" y="743.8" width="7.4" height="7.4"/><rect x="1143.6" y="751.6" width="7.4" height="7.4"/><rect x="1144.7" y="761.3" width="7.4" height="7.4"/><rect x="1147.3" y="768.9" width="7.4" height="7.4"/><rect x="1150.5" y="766.1" width="7.4" height="7.4"/><rect x="1154.3" y="795.1" width="7.4" height="7.4"/><rect x="1156.4" y="784.5" width="7.4" height="7.4"/><rect x="1157.3" y="786.8" width="7.4" height="7.4"/><rect x="1158.9" y="787.8" width="7.4" height="7.4"/><rect x="1161.3" y="801.7" width="7.4" height="7.4"/><rect x="1163.4" y="803.0" width="7.4" height="7.4"/><rect x="1164.9" y="795.2" width="7.4" height="7.4"/><rect x="1168.0" y="802.7" width="7.4" height="7.4"/><rect x="1169.2" y="810.5" width="7.4" height="7.4"/><rect x="1172.7" y="817.1" width="7.4" height="7.4"/><rect x="1174.2" y="814.8" width="7.4" height="7.4"/><rect x="1176.2" y="816.5" width="7.4" height="7.4"/><rect x="1177.3" y="816.1" width="7.4" height="7.4"/><rect x="1180.4" y="837.8" width="7.4" height="7.4"/><rect x="1182.3" y="822.7" width="7.4" height="7.4"/><rect x="1184.4" y="836.6" width="7.4" height="7.4"/><rect x="1187.2" y="829.7" width="7.4" height="7.4"/><rect x="1189.3" y="829.9" width="7.4" height="7.4"/><rect x="1191.1" y="826.7" width="7.4" height="7.4"/><rect x="1194.6" y="832.2" width="7.4" height="7.4"/><rect x="1196.0" y="836.8" width="7.4" height="7.4"/><rect x="1197.2" y="851.2" width="7.4" height="7.4"/><rect x="1199.4" y="845.6" width="7.4" height="7.4"/><rect x="1201.5" y="849.5" width="7.4" height="7.4"/><rect x="1204.6" y="859.3" width="7.4" height="7.4"/><rect x="1207.7" y="852.0" width="7.4" height="7.4"/><rect x="1208.9" y="854.6" width="7.4" height="7.4"/><rect x="1210.8" y="855.9" width="7.4" height="7.4"/><rect x="1212.7" y="867.9" width="7.4" height="7.4"/><rect x="1214.7" y="865.6" width="7.4" height="7.4"/><rect x="1218.3" y="869.2" width="7.4" height="7.4"/><rect x="1217.3" y="863.7" width="7.4" height="7.4"/><rect x="1221.7" y="869.3" width="7.4" height="7.4"/><rect x="1222.2" y="873.6" width="7.4" height="7.4"/><rect x="1226.3" y="876.6" width="7.4" height="7.4"/><rect x="1229.1" y="879.0" width="7.4" height="7.4"/><rect x="1229.0" y="872.7" width="7.4" height="7.4"/><rect x="1232.1" y="876.4" width="7.4" height="7.4"/><rect x="1234.4" y="878.1" width="7.4" height="7.4"/><rect x="1236.8" y="887.5" width="7.4" height="7.4"/><rect x="1239.6" y="887.2" width="7.4" height="7.4"/><rect x="1239.7" y="881.1" width="7.4" height="7.4"/><rect x="1242.1" y="887.6" width="7.4" height="7.4"/><rect x="1246.0" y="890.3" width="7.4" height="7.4"/><rect x="1247.6" y="888.1" width="7.4" height="7.4"/><rect x="1251.0" y="894.8" width="7.4" height="7.4"/><rect x="1253.4" y="895.3" width="7.4" height="7.4"/><rect x="1254.6" y="896.8" width="7.4" height="7.4"/><rect x="1255.8" y="895.7" width="7.4" height="7.4"/><rect x="1259.0" y="894.0" width="7.4" height="7.4"/><rect x="1260.3" y="896.5" width="7.4" height="7.4"/><rect x="1262.3" y="896.6" width="7.4" height="7.4"/><rect x="1266.1" y="900.0" width="7.4" height="7.4"/><rect x="1268.2" y="903.6" width="7.4" height="7.4"/><rect x="1268.6" y="908.5" width="7.4" height="7.4"/><rect x="1271.1" y="899.0" width="7.4" height="7.4"/><rect x="1274.5" y="906.5" width="7.4" height="7.4"/><rect x="1275.9" y="917.1" width="7.4" height="7.4"/><rect x="1278.3" y="909.2" width="7.4" height="7.4"/><rect x="1280.6" y="912.3" width="7.4" height="7.4"/><rect x="1281.6" y="909.3" width="7.4" height="7.4"/><rect x="1284.8" y="911.8" width="7.4" height="7.4"/><rect x="1287.2" y="918.2" width="7.4" height="7.4"/><rect x="1288.1" y="911.8" width="7.4" height="7.4"/><rect x="1291.6" y="918.4" width="7.4" height="7.4"/><rect x="1294.4" y="920.4" width="7.4" height="7.4"/><rect x="1295.7" y="920.1" width="7.4" height="7.4"/><rect x="1297.3" y="920.9" width="7.4" height="7.4"/><rect x="1301.0" y="924.8" width="7.4" height="7.4"/><rect x="1302.6" y="918.8" width="7.4" height="7.4"/></g><path d="M773.1,834.9 L776.9,834.0 L780.7,833.1 L784.5,832.1 L788.3,831.1 L792.2,829.9 L796.0,828.7 L799.8,827.4 L803.6,825.9 L807.4,824.4 L811.2,822.8 L815.0,821.0 L818.8,819.1 L822.6,817.1 L826.4,815.0 L830.3,812.6 L834.1,810.1 L837.9,807.5 L841.7,804.6 L845.5,801.6 L849.3,798.3 L853.1,794.9 L856.9,791.2 L860.7,787.4 L864.5,783.4 L868.4,779.1 L872.2,774.7 L876.0,770.1 L879.8,765.4 L883.6,760.5 L887.4,755.4 L891.2,750.1 L895.0,744.8 L898.8,739.3 L902.6,733.6 L906.5,727.9 L910.3,722.1 L914.1,716.2 L917.9,710.2 L921.7,704.1 L925.5,698.1 L929.3,692.0 L933.1,685.8 L936.9,679.8 L940.7,673.7 L944.6,667.7 L948.4,661.8 L952.2,655.9 L956.0,650.2 L959.8,644.7 L963.6,639.3 L967.4,634.2 L971.2,629.3 L975.0,624.6 L978.8,620.2 L982.7,616.1 L986.5,612.3 L990.3,608.8 L994.1,605.6 L997.9,602.9 L1001.7,600.5 L1005.5,598.4 L1009.3,596.8 L1013.1,595.6 L1016.9,594.8 L1020.8,594.4 L1024.6,594.5 L1028.4,595.0 L1032.2,595.9 L1036.0,597.3 L1039.8,599.1 L1043.6,601.4 L1047.4,604.1 L1051.2,607.3 L1055.0,610.9 L1058.9,615.0 L1062.7,619.4 L1066.5,624.2 L1070.3,629.4 L1074.1,635.0 L1077.9,640.8 L1081.7,646.9 L1085.5,653.3 L1089.3,659.8 L1093.1,666.6 L1097.0,673.4 L1100.8,680.4 L1104.6,687.4 L1108.4,694.4 L1112.2,701.5 L1116.0,708.5 L1119.8,715.5 L1123.6,722.5 L1127.4,729.5 L1131.2,736.5 L1135.1,743.4 L1138.9,750.4 L1142.7,757.3 L1146.5,764.2 L1150.3,771.0 L1154.1,777.8 L1157.9,784.4 L1161.7,791.0 L1165.5,797.4 L1169.3,803.7 L1173.2,809.8 L1177.0,815.8 L1180.8,821.5 L1184.6,827.1 L1188.4,832.5 L1192.2,837.7 L1196.0,842.7 L1199.8,847.4 L1203.6,851.9 L1207.4,856.2 L1211.3,860.2 L1215.1,864.1 L1218.9,867.7 L1222.7,871.3 L1226.5,874.7 L1230.3,878.0 L1234.1,881.2 L1237.9,884.3 L1241.7,887.4 L1245.5,890.4 L1249.4,893.2 L1253.2,896.1 L1257.0,898.8 L1260.8,901.4 L1264.6,903.9 L1268.4,906.3 L1272.2,908.6 L1276.0,910.8 L1279.8,912.8 L1283.6,914.8 L1287.5,916.7 L1291.3,918.5 L1295.1,920.2 L1298.9,921.9 L1302.7,923.5" fill="none" stroke="#1f4e9f" stroke-width="5.6" stroke-linecap="round" stroke-linejoin="round"/><g fill="#fff" stroke="#000" stroke-width="1.4"><circle cx="803.5" cy="850.4" r="4.45"/><circle cx="806.1" cy="848.7" r="4.45"/><circle cx="809.8" cy="840.5" r="4.45"/><circle cx="812.0" cy="835.0" r="4.45"/><circle cx="812.6" cy="846.3" r="4.45"/><circle cx="814.5" cy="836.1" r="4.45"/><circle cx="816.2" cy="838.5" r="4.45"/><circle cx="818.3" cy="846.2" r="4.45"/><circle cx="819.9" cy="835.4" r="4.45"/><circle cx="823.2" cy="841.7" r="4.45"/><circle cx="823.3" cy="837.9" r="4.45"/><circle cx="827.1" cy="836.9" r="4.45"/><circle cx="829.4" cy="850.4" r="4.45"/><circle cx="830.3" cy="830.0" r="4.45"/><circle cx="833.8" cy="843.7" r="4.45"/><circle cx="833.5" cy="837.5" r="4.45"/><circle cx="837.5" cy="841.2" r="4.45"/><circle cx="838.4" cy="832.8" r="4.45"/><circle cx="840.3" cy="835.3" r="4.45"/><circle cx="842.9" cy="831.6" r="4.45"/><circle cx="845.7" cy="830.0" r="4.45"/><circle cx="847.9" cy="830.6" r="4.45"/><circle cx="848.9" cy="845.4" r="4.45"/><circle cx="851.5" cy="828.3" r="4.45"/><circle cx="852.8" cy="829.3" r="4.45"/><circle cx="855.4" cy="825.4" r="4.45"/><circle cx="858.7" cy="828.2" r="4.45"/><circle cx="859.8" cy="829.0" r="4.45"/><circle cx="862.3" cy="823.7" r="4.45"/><circle cx="864.4" cy="822.3" r="4.45"/><circle cx="865.8" cy="825.5" r="4.45"/><circle cx="866.5" cy="822.0" r="4.45"/><circle cx="868.8" cy="816.9" r="4.45"/><circle cx="872.0" cy="817.7" r="4.45"/><circle cx="873.9" cy="811.0" r="4.45"/><circle cx="877.0" cy="818.3" r="4.45"/><circle cx="878.1" cy="807.5" r="4.45"/><circle cx="880.1" cy="803.0" r="4.45"/><circle cx="881.1" cy="806.2" r="4.45"/><circle cx="883.6" cy="807.5" r="4.45"/><circle cx="886.3" cy="796.5" r="4.45"/><circle cx="888.3" cy="793.8" r="4.45"/><circle cx="890.7" cy="803.9" r="4.45"/><circle cx="892.8" cy="795.8" r="4.45"/><circle cx="895.1" cy="796.0" r="4.45"/><circle cx="895.7" cy="794.9" r="4.45"/><circle cx="897.6" cy="785.5" r="4.45"/><circle cx="902.0" cy="783.8" r="4.45"/><circle cx="902.6" cy="785.8" r="4.45"/><circle cx="905.8" cy="788.2" r="4.45"/><circle cx="906.4" cy="786.4" r="4.45"/><circle cx="908.4" cy="781.9" r="4.45"/><circle cx="912.5" cy="773.1" r="4.45"/><circle cx="912.9" cy="777.0" r="4.45"/><circle cx="915.1" cy="773.6" r="4.45"/><circle cx="917.6" cy="770.1" r="4.45"/><circle cx="919.9" cy="772.9" r="4.45"/><circle cx="921.7" cy="751.6" r="4.45"/><circle cx="921.7" cy="772.4" r="4.45"/><circle cx="925.9" cy="768.0" r="4.45"/><circle cx="927.4" cy="764.4" r="4.45"/><circle cx="929.1" cy="760.1" r="4.45"/><circle cx="932.0" cy="762.7" r="4.45"/><circle cx="933.3" cy="751.4" r="4.45"/><circle cx="935.5" cy="750.3" r="4.45"/><circle cx="938.1" cy="757.0" r="4.45"/><circle cx="940.8" cy="743.9" r="4.45"/><circle cx="940.9" cy="743.7" r="4.45"/><circle cx="945.4" cy="736.4" r="4.45"/><circle cx="945.4" cy="733.0" r="4.45"/><circle cx="949.0" cy="737.2" r="4.45"/><circle cx="950.4" cy="734.7" r="4.45"/><circle cx="952.2" cy="737.9" r="4.45"/><circle cx="954.1" cy="735.8" r="4.45"/><circle cx="954.6" cy="731.8" r="4.45"/><circle cx="958.2" cy="725.0" r="4.45"/><circle cx="960.8" cy="727.4" r="4.45"/><circle cx="962.2" cy="717.6" r="4.45"/><circle cx="965.4" cy="709.0" r="4.45"/><circle cx="966.9" cy="715.2" r="4.45"/><circle cx="968.4" cy="711.6" r="4.45"/><circle cx="969.6" cy="699.2" r="4.45"/><circle cx="973.9" cy="702.0" r="4.45"/><circle cx="974.7" cy="714.1" r="4.45"/><circle cx="977.1" cy="695.7" r="4.45"/><circle cx="980.1" cy="698.0" r="4.45"/><circle cx="982.2" cy="693.8" r="4.45"/><circle cx="982.3" cy="690.1" r="4.45"/><circle cx="983.8" cy="688.8" r="4.45"/><circle cx="987.2" cy="688.1" r="4.45"/><circle cx="988.7" cy="683.3" r="4.45"/><circle cx="990.8" cy="683.3" r="4.45"/><circle cx="993.1" cy="661.1" r="4.45"/><circle cx="996.3" cy="658.4" r="4.45"/><circle cx="997.5" cy="657.7" r="4.45"/><circle cx="1000.4" cy="666.8" r="4.45"/><circle cx="1002.6" cy="644.6" r="4.45"/><circle cx="1003.1" cy="671.4" r="4.45"/><circle cx="1006.5" cy="635.8" r="4.45"/><circle cx="1009.4" cy="646.4" r="4.45"/><circle cx="1009.5" cy="655.7" r="4.45"/><circle cx="1011.8" cy="652.9" r="4.45"/><circle cx="1012.6" cy="639.4" r="4.45"/><circle cx="1016.2" cy="659.0" r="4.45"/><circle cx="1019.1" cy="644.0" r="4.45"/><circle cx="1019.9" cy="657.3" r="4.45"/><circle cx="1022.8" cy="636.0" r="4.45"/><circle cx="1024.2" cy="632.8" r="4.45"/><circle cx="1025.6" cy="635.7" r="4.45"/><circle cx="1030.1" cy="637.7" r="4.45"/><circle cx="1031.1" cy="642.5" r="4.45"/><circle cx="1033.5" cy="630.7" r="4.45"/><circle cx="1034.3" cy="630.6" r="4.45"/><circle cx="1036.0" cy="625.3" r="4.45"/><circle cx="1039.6" cy="626.5" r="4.45"/><circle cx="1040.8" cy="626.2" r="4.45"/><circle cx="1040.8" cy="624.5" r="4.45"/><circle cx="1045.0" cy="607.8" r="4.45"/><circle cx="1046.1" cy="613.2" r="4.45"/><circle cx="1049.0" cy="598.0" r="4.45"/><circle cx="1051.7" cy="598.6" r="4.45"/><circle cx="1052.9" cy="599.1" r="4.45"/><circle cx="1056.0" cy="615.5" r="4.45"/><circle cx="1058.3" cy="607.7" r="4.45"/><circle cx="1060.2" cy="590.9" r="4.45"/><circle cx="1062.6" cy="589.8" r="4.45"/><circle cx="1065.0" cy="596.3" r="4.45"/><circle cx="1065.3" cy="604.6" r="4.45"/><circle cx="1067.1" cy="609.7" r="4.45"/><circle cx="1069.3" cy="594.2" r="4.45"/><circle cx="1070.8" cy="596.1" r="4.45"/><circle cx="1073.4" cy="586.2" r="4.45"/><circle cx="1075.7" cy="593.9" r="4.45"/><circle cx="1077.9" cy="579.6" r="4.45"/><circle cx="1080.6" cy="585.0" r="4.45"/><circle cx="1081.9" cy="595.7" r="4.45"/><circle cx="1083.9" cy="581.3" r="4.45"/><circle cx="1083.8" cy="591.6" r="4.45"/><circle cx="1088.6" cy="587.6" r="4.45"/><circle cx="1089.7" cy="572.9" r="4.45"/><circle cx="1091.8" cy="587.2" r="4.45"/><circle cx="1093.6" cy="593.2" r="4.45"/><circle cx="1097.2" cy="573.4" r="4.45"/><circle cx="1097.9" cy="587.3" r="4.45"/><circle cx="1100.2" cy="596.9" r="4.45"/><circle cx="1103.1" cy="581.9" r="4.45"/><circle cx="1103.6" cy="589.7" r="4.45"/><circle cx="1106.2" cy="599.3" r="4.45"/><circle cx="1107.8" cy="597.0" r="4.45"/><circle cx="1112.1" cy="610.7" r="4.45"/><circle cx="1112.0" cy="612.7" r="4.45"/><circle cx="1115.3" cy="601.6" r="4.45"/><circle cx="1117.0" cy="608.3" r="4.45"/><circle cx="1119.5" cy="603.6" r="4.45"/><circle cx="1120.8" cy="617.3" r="4.45"/><circle cx="1123.3" cy="595.0" r="4.45"/><circle cx="1125.7" cy="613.8" r="4.45"/><circle cx="1127.4" cy="606.5" r="4.45"/><circle cx="1128.6" cy="596.6" r="4.45"/><circle cx="1131.7" cy="626.0" r="4.45"/><circle cx="1132.3" cy="622.9" r="4.45"/><circle cx="1133.9" cy="609.6" r="4.45"/><circle cx="1137.8" cy="623.9" r="4.45"/><circle cx="1139.9" cy="625.9" r="4.45"/><circle cx="1140.5" cy="627.6" r="4.45"/><circle cx="1143.5" cy="635.0" r="4.45"/><circle cx="1144.1" cy="643.3" r="4.45"/><circle cx="1148.2" cy="638.5" r="4.45"/><circle cx="1150.2" cy="623.9" r="4.45"/><circle cx="1151.6" cy="640.9" r="4.45"/><circle cx="1153.1" cy="642.1" r="4.45"/><circle cx="1156.0" cy="653.9" r="4.45"/><circle cx="1158.4" cy="650.6" r="4.45"/><circle cx="1158.4" cy="658.1" r="4.45"/><circle cx="1161.9" cy="654.5" r="4.45"/><circle cx="1164.7" cy="662.6" r="4.45"/><circle cx="1166.4" cy="666.9" r="4.45"/><circle cx="1168.8" cy="682.0" r="4.45"/><circle cx="1169.5" cy="671.6" r="4.45"/><circle cx="1174.0" cy="680.4" r="4.45"/><circle cx="1174.3" cy="694.5" r="4.45"/><circle cx="1177.1" cy="683.8" r="4.45"/><circle cx="1179.0" cy="695.1" r="4.45"/><circle cx="1181.2" cy="701.9" r="4.45"/><circle cx="1183.4" cy="698.9" r="4.45"/><circle cx="1184.5" cy="705.5" r="4.45"/><circle cx="1186.3" cy="720.1" r="4.45"/><circle cx="1191.2" cy="715.5" r="4.45"/><circle cx="1191.3" cy="716.8" r="4.45"/><circle cx="1194.7" cy="708.3" r="4.45"/><circle cx="1196.2" cy="720.1" r="4.45"/><circle cx="1197.3" cy="730.5" r="4.45"/><circle cx="1199.2" cy="746.0" r="4.45"/><circle cx="1201.0" cy="731.7" r="4.45"/><circle cx="1203.1" cy="746.1" r="4.45"/><circle cx="1207.3" cy="739.3" r="4.45"/><circle cx="1208.3" cy="749.4" r="4.45"/><circle cx="1208.4" cy="760.4" r="4.45"/><circle cx="1212.1" cy="754.7" r="4.45"/><circle cx="1213.0" cy="774.2" r="4.45"/><circle cx="1216.1" cy="769.7" r="4.45"/><circle cx="1218.1" cy="765.9" r="4.45"/><circle cx="1218.5" cy="781.9" r="4.45"/><circle cx="1221.3" cy="776.3" r="4.45"/><circle cx="1222.7" cy="792.7" r="4.45"/><circle cx="1227.3" cy="787.3" r="4.45"/><circle cx="1227.1" cy="795.0" r="4.45"/><circle cx="1229.7" cy="789.4" r="4.45"/><circle cx="1232.1" cy="792.8" r="4.45"/><circle cx="1234.3" cy="797.8" r="4.45"/><circle cx="1237.0" cy="802.9" r="4.45"/><circle cx="1237.4" cy="818.7" r="4.45"/><circle cx="1241.8" cy="807.3" r="4.45"/><circle cx="1243.9" cy="815.2" r="4.45"/><circle cx="1244.4" cy="814.8" r="4.45"/><circle cx="1245.7" cy="828.3" r="4.45"/><circle cx="1250.8" cy="831.6" r="4.45"/><circle cx="1249.4" cy="832.9" r="4.45"/><circle cx="1252.1" cy="829.7" r="4.45"/><circle cx="1254.9" cy="827.1" r="4.45"/><circle cx="1256.5" cy="838.8" r="4.45"/><circle cx="1258.3" cy="831.5" r="4.45"/><circle cx="1261.5" cy="843.5" r="4.45"/><circle cx="1262.5" cy="849.1" r="4.45"/><circle cx="1265.4" cy="847.9" r="4.45"/><circle cx="1266.9" cy="860.7" r="4.45"/><circle cx="1269.1" cy="860.9" r="4.45"/><circle cx="1272.3" cy="865.8" r="4.45"/><circle cx="1272.9" cy="860.9" r="4.45"/><circle cx="1274.6" cy="870.0" r="4.45"/><circle cx="1276.2" cy="872.9" r="4.45"/><circle cx="1279.5" cy="876.8" r="4.45"/><circle cx="1280.6" cy="875.2" r="4.45"/><circle cx="1283.4" cy="878.1" r="4.45"/><circle cx="1286.3" cy="877.2" r="4.45"/><circle cx="1287.9" cy="895.4" r="4.45"/><circle cx="1289.8" cy="882.6" r="4.45"/><circle cx="1291.0" cy="891.0" r="4.45"/><circle cx="1293.4" cy="896.3" r="4.45"/><circle cx="1296.8" cy="893.2" r="4.45"/><circle cx="1298.1" cy="892.5" r="4.45"/><circle cx="1301.7" cy="903.6" r="4.45"/><circle cx="1301.3" cy="899.5" r="4.45"/><circle cx="1304.8" cy="903.8" r="4.45"/><circle cx="1305.0" cy="911.1" r="4.45"/><circle cx="1307.7" cy="902.8" r="4.45"/><circle cx="1309.4" cy="910.6" r="4.45"/><circle cx="1312.3" cy="915.9" r="4.45"/><circle cx="1315.2" cy="927.1" r="4.45"/><circle cx="1316.6" cy="926.1" r="4.45"/></g><path d="M806.0,836.7 L809.7,836.1 L813.3,835.4 L817.0,834.6 L820.7,833.8 L824.3,833.0 L828.0,832.0 L831.7,831.0 L835.3,829.9 L839.0,828.7 L842.7,827.5 L846.3,826.1 L850.0,824.7 L853.7,823.2 L857.3,821.6 L861.0,819.8 L864.7,818.0 L868.3,816.1 L872.0,814.1 L875.7,811.9 L879.3,809.7 L883.0,807.3 L886.7,804.8 L890.3,802.2 L894.0,799.5 L897.7,796.6 L901.3,793.6 L905.0,790.5 L908.7,787.3 L912.3,783.9 L916.0,780.4 L919.7,776.8 L923.3,773.0 L927.0,769.1 L930.7,765.0 L934.3,760.7 L938.0,756.2 L941.7,751.6 L945.3,746.8 L949.0,741.8 L952.7,736.7 L956.3,731.5 L960.0,726.2 L963.7,720.8 L967.3,715.4 L971.0,709.8 L974.7,704.3 L978.3,698.6 L982.0,693.0 L985.7,687.3 L989.3,681.7 L993.0,676.1 L996.7,670.5 L1000.3,665.0 L1004.0,659.5 L1007.7,654.2 L1011.3,649.0 L1015.0,643.9 L1018.7,639.0 L1022.3,634.3 L1026.0,629.7 L1029.7,625.4 L1033.3,621.3 L1037.0,617.5 L1040.7,613.9 L1044.3,610.6 L1048.0,607.5 L1051.7,604.8 L1055.3,602.4 L1059.0,600.3 L1062.7,598.5 L1066.4,597.0 L1070.0,596.0 L1073.7,595.2 L1077.4,594.8 L1081.0,594.6 L1084.7,594.8 L1088.4,595.2 L1092.0,595.9 L1095.7,596.9 L1099.4,598.1 L1103.0,599.7 L1106.7,601.6 L1110.4,603.9 L1114.0,606.4 L1117.7,609.3 L1121.4,612.5 L1125.0,616.0 L1128.7,619.9 L1132.4,624.0 L1136.0,628.5 L1139.7,633.3 L1143.4,638.4 L1147.0,643.8 L1150.7,649.5 L1154.4,655.5 L1158.0,661.7 L1161.7,668.2 L1165.4,674.8 L1169.0,681.7 L1172.7,688.6 L1176.4,695.7 L1180.0,702.8 L1183.7,710.0 L1187.4,717.2 L1191.0,724.4 L1194.7,731.6 L1198.4,738.8 L1202.0,745.9 L1205.7,752.9 L1209.4,759.9 L1213.0,766.8 L1216.7,773.6 L1220.4,780.4 L1224.0,787.1 L1227.7,793.8 L1231.4,800.4 L1235.0,807.0 L1238.7,813.4 L1242.4,819.7 L1246.0,826.0 L1249.7,832.1 L1253.4,838.0 L1257.0,843.8 L1260.7,849.5 L1264.4,855.0 L1268.0,860.4 L1271.7,865.7 L1275.4,870.8 L1279.0,875.8 L1282.7,880.7 L1286.4,885.5 L1290.0,890.1 L1293.7,894.7 L1297.4,899.2 L1301.0,903.5 L1304.7,907.7 L1308.4,911.8 L1312.0,915.8 L1315.7,919.6" fill="none" stroke="#e8282e" stroke-width="5.6" stroke-linecap="round" stroke-linejoin="round"/><line x1="565.5" y1="596.9" x2="633.0" y2="596.9" stroke="#1f4e9f" stroke-width="5.6" stroke-linecap="round"/><line x1="565.5" y1="634.1" x2="633.0" y2="634.1" stroke="#e8282e" stroke-width="5.6" stroke-linecap="round"/><text transform="translate(649.5,607.1) scale(1,1.05)" font-family='"Liberation Sans", sans-serif' font-size="30.2" text-anchor="start" >Positive field polarity</text><text transform="translate(649.5,642.7) scale(1,1.05)" font-family='"Liberation Sans", sans-serif' font-size="30.2" text-anchor="start" >Negative field polarity</text><text x="378.5" y="534.1" font-family='"Liberation Serif", serif' font-size="38" font-weight="bold" fill="#b21f24">2Δ<tspan font-style="italic">f</tspan><tspan font-size="26.6">DMI</tspan> = 2.92 GHz</text></svg></body></html>
